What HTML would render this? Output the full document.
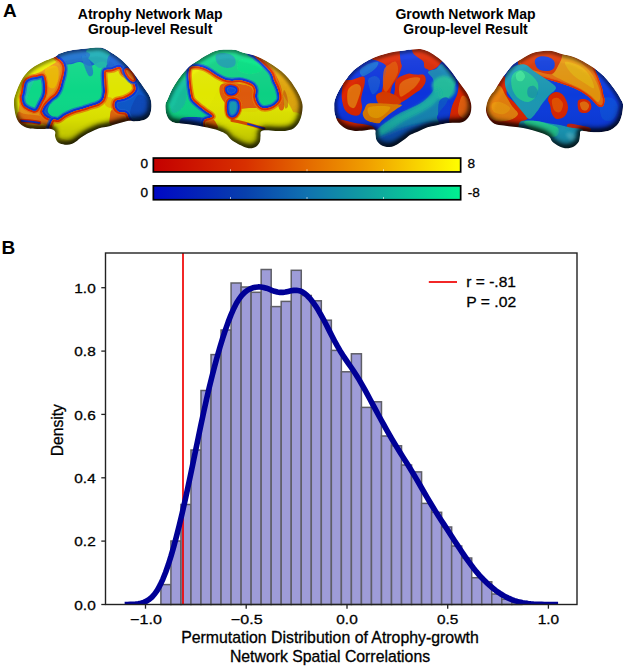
<!DOCTYPE html>
<html><head><meta charset="utf-8"><style>
html,body{margin:0;padding:0;background:#fff;width:627px;height:669px;overflow:hidden}
svg{display:block}
text{font-family:"Liberation Sans",sans-serif;fill:#000}
.tl{font-size:13.4px;stroke:#000;stroke-width:0.3px}
.lg{font-size:15.2px;stroke:#000;stroke-width:0.3px}
.xl{font-size:15.7px;stroke:#000;stroke-width:0.3px}
.cbl{font-size:13.6px;stroke:#000;stroke-width:0.3px}
.tt{font-size:14px;font-weight:bold}
.pl{font-size:19px;font-weight:bold}
</style></head><body>
<svg width="627" height="669" viewBox="0 0 627 669">
<defs>
<linearGradient id="shg" x1="0" y1="0" x2="0" y2="1"><stop offset="0" stop-color="#fff" stop-opacity="0.10"/><stop offset="0.45" stop-color="#fff" stop-opacity="0"/><stop offset="0.75" stop-color="#000" stop-opacity="0.04"/><stop offset="1" stop-color="#000" stop-opacity="0.2"/></linearGradient>
<filter id="pil" x="-5%" y="-5%" width="110%" height="110%" color-interpolation-filters="sRGB">
<feGaussianBlur in="SourceAlpha" stdDeviation="3.5" result="b"/>
<feDiffuseLighting in="b" surfaceScale="5" diffuseConstant="1.15" lighting-color="#fff" result="l"><feDistantLight azimuth="250" elevation="50"/></feDiffuseLighting>
<feComponentTransfer in="l" result="l2"><feFuncR type="linear" slope="0.75" intercept="0.3"/><feFuncG type="linear" slope="0.75" intercept="0.3"/><feFuncB type="linear" slope="0.75" intercept="0.3"/></feComponentTransfer>
<feBlend in="SourceGraphic" in2="l2" mode="multiply" result="m"/>
<feComposite in="m" in2="SourceAlpha" operator="in"/>
</filter>
<filter id="bl1" x="-5%" y="-5%" width="110%" height="110%"><feGaussianBlur stdDeviation="0.7"/></filter>
<filter id="bl2" x="-10%" y="-10%" width="120%" height="120%"><feGaussianBlur stdDeviation="1.5"/></filter>
<filter id="bl3" x="-10%" y="-10%" width="120%" height="120%"><feGaussianBlur stdDeviation="3"/></filter>
<linearGradient id="gr" x1="0" x2="1" y1="0" y2="0">
<stop offset="0" stop-color="#c40000"/><stop offset="0.3" stop-color="#d83000"/><stop offset="0.5" stop-color="#e46a00"/><stop offset="0.7" stop-color="#f0a000"/><stop offset="0.85" stop-color="#f8d000"/><stop offset="1" stop-color="#ffff00"/></linearGradient>
<linearGradient id="gb" x1="0" x2="1" y1="0" y2="0">
<stop offset="0" stop-color="#0008c4"/><stop offset="0.3" stop-color="#0840ac"/><stop offset="0.5" stop-color="#1072b0"/><stop offset="0.7" stop-color="#10a0a0"/><stop offset="0.85" stop-color="#08c898"/><stop offset="1" stop-color="#00f090"/></linearGradient>
</defs>
<g filter="url(#pil)"><clipPath id="b1s"><path d="M14.5,110.0 C14.0,106.8 13.8,102.7 14.0,100.0 C14.2,97.3 14.7,96.5 15.5,94.0 C16.3,91.5 17.6,88.0 19.0,85.0 C20.4,82.0 21.8,78.8 24.0,76.0 C26.2,73.2 28.8,70.4 32.0,68.0 C35.2,65.6 39.0,63.6 43.0,61.7 C47.0,59.8 52.9,57.8 55.7,56.4 C58.5,55.0 57.4,54.5 59.6,53.6 C61.8,52.7 65.9,51.4 69.1,50.7 C72.3,50.0 75.5,49.7 78.7,49.3 C81.9,48.9 85.1,48.6 88.3,48.3 C91.5,48.0 95.2,47.6 97.8,47.6 C100.3,47.6 101.6,47.6 103.6,48.3 C105.6,49.0 107.5,50.2 110.0,51.7 C112.5,53.2 115.6,55.1 118.3,57.2 C121.0,59.3 123.5,61.5 126.0,64.2 C128.6,66.9 131.3,70.2 133.6,73.2 C135.9,76.2 137.9,79.0 140.0,82.0 C142.1,85.0 144.6,88.4 146.3,91.0 C148.0,93.6 149.3,95.1 150.2,97.7 C151.1,100.3 151.6,103.6 151.5,106.6 C151.4,109.6 150.8,113.3 149.5,115.5 C148.2,117.7 146.4,119.0 144.0,120.0 C141.6,121.0 137.6,121.2 135.0,121.3 C132.4,121.4 131.3,120.4 128.5,120.8 C125.7,121.2 121.4,122.5 118.0,123.5 C114.6,124.5 111.0,125.8 108.0,126.5 C105.0,127.2 102.4,127.3 100.0,128.0 C97.6,128.7 95.9,129.6 93.8,130.5 C91.7,131.4 89.5,132.3 87.4,133.5 C85.3,134.7 82.9,136.2 81.0,137.5 C79.1,138.8 77.6,140.5 76.0,141.6 C74.4,142.7 73.1,143.6 71.5,144.1 C69.9,144.6 68.3,144.9 66.4,144.8 C64.5,144.7 61.6,144.2 60.0,143.5 C58.4,142.8 57.3,141.8 56.5,140.5 C55.7,139.2 55.2,137.5 55.0,136.0 C54.8,134.5 55.8,132.7 55.0,131.5 C54.2,130.3 52.5,129.2 50.0,128.8 C47.5,128.4 43.5,129.1 40.0,129.0 C36.5,128.9 32.1,129.0 29.0,128.3 C25.9,127.7 23.5,126.6 21.5,125.1 C19.5,123.6 18.2,121.8 17.0,119.3 C15.8,116.8 15.0,113.2 14.5,110.0Z"/></clipPath>
<g clip-path="url(#b1s)"><g filter="url(#bl1)">
<path d="M14.5,110.0 C14.0,106.8 13.8,102.7 14.0,100.0 C14.2,97.3 14.7,96.5 15.5,94.0 C16.3,91.5 17.6,88.0 19.0,85.0 C20.4,82.0 21.8,78.8 24.0,76.0 C26.2,73.2 28.8,70.4 32.0,68.0 C35.2,65.6 39.0,63.6 43.0,61.7 C47.0,59.8 52.9,57.8 55.7,56.4 C58.5,55.0 57.4,54.5 59.6,53.6 C61.8,52.7 65.9,51.4 69.1,50.7 C72.3,50.0 75.5,49.7 78.7,49.3 C81.9,48.9 85.1,48.6 88.3,48.3 C91.5,48.0 95.2,47.6 97.8,47.6 C100.3,47.6 101.6,47.6 103.6,48.3 C105.6,49.0 107.5,50.2 110.0,51.7 C112.5,53.2 115.6,55.1 118.3,57.2 C121.0,59.3 123.5,61.5 126.0,64.2 C128.6,66.9 131.3,70.2 133.6,73.2 C135.9,76.2 137.9,79.0 140.0,82.0 C142.1,85.0 144.6,88.4 146.3,91.0 C148.0,93.6 149.3,95.1 150.2,97.7 C151.1,100.3 151.6,103.6 151.5,106.6 C151.4,109.6 150.8,113.3 149.5,115.5 C148.2,117.7 146.4,119.0 144.0,120.0 C141.6,121.0 137.6,121.2 135.0,121.3 C132.4,121.4 131.3,120.4 128.5,120.8 C125.7,121.2 121.4,122.5 118.0,123.5 C114.6,124.5 111.0,125.8 108.0,126.5 C105.0,127.2 102.4,127.3 100.0,128.0 C97.6,128.7 95.9,129.6 93.8,130.5 C91.7,131.4 89.5,132.3 87.4,133.5 C85.3,134.7 82.9,136.2 81.0,137.5 C79.1,138.8 77.6,140.5 76.0,141.6 C74.4,142.7 73.1,143.6 71.5,144.1 C69.9,144.6 68.3,144.9 66.4,144.8 C64.5,144.7 61.6,144.2 60.0,143.5 C58.4,142.8 57.3,141.8 56.5,140.5 C55.7,139.2 55.2,137.5 55.0,136.0 C54.8,134.5 55.8,132.7 55.0,131.5 C54.2,130.3 52.5,129.2 50.0,128.8 C47.5,128.4 43.5,129.1 40.0,129.0 C36.5,128.9 32.1,129.0 29.0,128.3 C25.9,127.7 23.5,126.6 21.5,125.1 C19.5,123.6 18.2,121.8 17.0,119.3 C15.8,116.8 15.0,113.2 14.5,110.0Z" fill="#0a5ad0"/>
<path d="M63.0,66.0 C64.3,64.0 69.2,64.7 72.0,64.0 C74.8,63.3 77.0,61.7 80.0,62.0 C83.0,62.3 86.7,66.0 90.0,66.0 C93.3,66.0 97.3,62.3 100.0,62.0 C102.7,61.7 105.2,60.2 106.0,64.0 C106.8,67.8 106.0,79.0 105.0,85.0 C104.0,91.0 103.3,96.5 100.0,100.0 C96.7,103.5 90.0,104.0 85.0,106.0 C80.0,108.0 74.5,110.0 70.0,112.0 C65.5,114.0 61.7,118.0 58.0,118.0 C54.3,118.0 49.0,115.0 48.0,112.0 C47.0,109.0 50.0,104.0 52.0,100.0 C54.0,96.0 58.0,92.0 60.0,88.0 C62.0,84.0 63.5,79.7 64.0,76.0 C64.5,72.3 61.7,68.0 63.0,66.0Z" fill="#10e08c" fill-opacity="1.0"/>
<path d="M88.0,49.0 C90.3,47.7 96.3,47.2 100.0,48.0 C103.7,48.8 108.7,51.3 110.0,54.0 C111.3,56.7 109.7,61.7 108.0,64.0 C106.3,66.3 102.7,68.3 100.0,68.0 C97.3,67.7 94.3,64.0 92.0,62.0 C89.7,60.0 86.7,58.2 86.0,56.0 C85.3,53.8 85.7,50.3 88.0,49.0Z" fill="#14b4b0" fill-opacity="0.9"/>
<path d="M58.0,55.0 C59.7,53.3 66.0,52.7 70.0,52.0 C74.0,51.3 78.7,50.7 82.0,51.0 C85.3,51.3 89.3,52.5 90.0,54.0 C90.7,55.5 88.3,58.7 86.0,60.0 C83.7,61.3 79.3,61.3 76.0,62.0 C72.7,62.7 68.7,64.0 66.0,64.0 C63.3,64.0 61.3,63.5 60.0,62.0 C58.7,60.5 56.3,56.7 58.0,55.0Z" fill="#1470cc" fill-opacity="0.85"/>
<path d="M82.0,56.0 C82.5,54.3 86.3,56.3 88.0,58.0 C89.7,59.7 91.2,63.3 92.0,66.0 C92.8,68.7 93.5,72.3 93.0,74.0 C92.5,75.7 90.3,77.0 89.0,76.0 C87.7,75.0 86.2,71.3 85.0,68.0 C83.8,64.7 81.5,57.7 82.0,56.0Z" fill="#1878cc" fill-opacity="0.8"/>
<path d="M110.0,55.0 C112.8,54.3 121.7,59.5 125.0,62.0 C128.3,64.5 130.8,69.3 130.0,70.0 C129.2,70.7 123.7,66.7 120.0,66.0 C116.3,65.3 109.7,67.8 108.0,66.0 C106.3,64.2 107.2,55.7 110.0,55.0Z" fill="#1460d4" fill-opacity="0.8"/>
<path d="M138.0,95.0 C140.8,92.8 145.3,97.2 147.0,100.0 C148.7,102.8 149.2,109.0 148.0,112.0 C146.8,115.0 143.0,117.8 140.0,118.0 C137.0,118.2 130.3,116.8 130.0,113.0 C129.7,109.2 135.2,97.2 138.0,95.0Z" fill="#0846b8" fill-opacity="0.7"/>
<clipPath id="brain1c1"><path d="M50.0,45.0 C55.1,44.7 54.0,53.9 55.7,56.4 C57.5,58.9 59.2,59.0 60.5,60.3 C61.8,61.6 62.8,62.7 63.4,64.1 C64.0,65.5 64.4,67.0 64.4,68.9 C64.4,70.8 63.9,73.4 63.4,75.6 C62.9,77.8 62.1,80.1 61.5,82.3 C60.9,84.5 60.5,86.9 59.6,89.0 C58.7,91.1 57.4,93.3 56.0,95.0 C54.6,96.7 52.8,97.3 51.0,99.0 C49.2,100.7 46.5,102.9 45.0,105.0 C43.5,107.1 41.9,109.5 42.0,111.5 C42.1,113.5 43.8,115.4 45.5,116.8 C47.2,118.2 50.1,119.0 52.0,120.0 C53.9,121.0 56.3,121.2 57.0,122.5 C57.7,123.8 57.2,126.1 56.0,128.0 C54.8,129.9 56.0,133.0 50.0,134.0 C44.0,135.0 27.0,136.7 20.0,134.0 C13.0,131.3 10.3,124.5 8.0,118.0 C5.7,111.5 5.3,102.2 6.0,95.0 C6.7,87.8 8.8,81.2 12.0,75.0 C15.2,68.8 18.7,63.0 25.0,58.0 C31.3,53.0 44.9,45.3 50.0,45.0Z"/></clipPath><path d="M50.0,45.0 C55.1,44.7 54.0,53.9 55.7,56.4 C57.5,58.9 59.2,59.0 60.5,60.3 C61.8,61.6 62.8,62.7 63.4,64.1 C64.0,65.5 64.4,67.0 64.4,68.9 C64.4,70.8 63.9,73.4 63.4,75.6 C62.9,77.8 62.1,80.1 61.5,82.3 C60.9,84.5 60.5,86.9 59.6,89.0 C58.7,91.1 57.4,93.3 56.0,95.0 C54.6,96.7 52.8,97.3 51.0,99.0 C49.2,100.7 46.5,102.9 45.0,105.0 C43.5,107.1 41.9,109.5 42.0,111.5 C42.1,113.5 43.8,115.4 45.5,116.8 C47.2,118.2 50.1,119.0 52.0,120.0 C53.9,121.0 56.3,121.2 57.0,122.5 C57.7,123.8 57.2,126.1 56.0,128.0 C54.8,129.9 56.0,133.0 50.0,134.0 C44.0,135.0 27.0,136.7 20.0,134.0 C13.0,131.3 10.3,124.5 8.0,118.0 C5.7,111.5 5.3,102.2 6.0,95.0 C6.7,87.8 8.8,81.2 12.0,75.0 C15.2,68.8 18.7,63.0 25.0,58.0 C31.3,53.0 44.9,45.3 50.0,45.0Z" fill="none" stroke="#1a64d8" stroke-opacity="0.7" stroke-width="7.04"/><path d="M50.0,45.0 C55.1,44.7 54.0,53.9 55.7,56.4 C57.5,58.9 59.2,59.0 60.5,60.3 C61.8,61.6 62.8,62.7 63.4,64.1 C64.0,65.5 64.4,67.0 64.4,68.9 C64.4,70.8 63.9,73.4 63.4,75.6 C62.9,77.8 62.1,80.1 61.5,82.3 C60.9,84.5 60.5,86.9 59.6,89.0 C58.7,91.1 57.4,93.3 56.0,95.0 C54.6,96.7 52.8,97.3 51.0,99.0 C49.2,100.7 46.5,102.9 45.0,105.0 C43.5,107.1 41.9,109.5 42.0,111.5 C42.1,113.5 43.8,115.4 45.5,116.8 C47.2,118.2 50.1,119.0 52.0,120.0 C53.9,121.0 56.3,121.2 57.0,122.5 C57.7,123.8 57.2,126.1 56.0,128.0 C54.8,129.9 56.0,133.0 50.0,134.0 C44.0,135.0 27.0,136.7 20.0,134.0 C13.0,131.3 10.3,124.5 8.0,118.0 C5.7,111.5 5.3,102.2 6.0,95.0 C6.7,87.8 8.8,81.2 12.0,75.0 C15.2,68.8 18.7,63.0 25.0,58.0 C31.3,53.0 44.9,45.3 50.0,45.0Z" fill="none" stroke="#0c30e0" stroke-width="4.32"/><path d="M50.0,45.0 C55.1,44.7 54.0,53.9 55.7,56.4 C57.5,58.9 59.2,59.0 60.5,60.3 C61.8,61.6 62.8,62.7 63.4,64.1 C64.0,65.5 64.4,67.0 64.4,68.9 C64.4,70.8 63.9,73.4 63.4,75.6 C62.9,77.8 62.1,80.1 61.5,82.3 C60.9,84.5 60.5,86.9 59.6,89.0 C58.7,91.1 57.4,93.3 56.0,95.0 C54.6,96.7 52.8,97.3 51.0,99.0 C49.2,100.7 46.5,102.9 45.0,105.0 C43.5,107.1 41.9,109.5 42.0,111.5 C42.1,113.5 43.8,115.4 45.5,116.8 C47.2,118.2 50.1,119.0 52.0,120.0 C53.9,121.0 56.3,121.2 57.0,122.5 C57.7,123.8 57.2,126.1 56.0,128.0 C54.8,129.9 56.0,133.0 50.0,134.0 C44.0,135.0 27.0,136.7 20.0,134.0 C13.0,131.3 10.3,124.5 8.0,118.0 C5.7,111.5 5.3,102.2 6.0,95.0 C6.7,87.8 8.8,81.2 12.0,75.0 C15.2,68.8 18.7,63.0 25.0,58.0 C31.3,53.0 44.9,45.3 50.0,45.0Z" fill="#f09a18"/><g clip-path="url(#brain1c1)"><path d="M10.0,112.0 C10.0,108.0 10.7,101.0 12.0,96.0 C13.3,91.0 15.3,86.3 18.0,82.0 C20.7,77.7 24.3,73.3 28.0,70.0 C31.7,66.7 35.8,64.3 40.0,62.0 C44.2,59.7 50.0,56.3 53.0,56.0 C56.0,55.7 58.5,58.3 58.0,60.0 C57.5,61.7 53.0,64.0 50.0,66.0 C47.0,68.0 43.3,70.3 40.0,72.0 C36.7,73.7 32.7,74.0 30.0,76.0 C27.3,78.0 25.5,80.8 24.0,84.0 C22.5,87.2 21.8,91.0 21.0,95.0 C20.2,99.0 19.5,104.2 19.0,108.0 C18.5,111.8 19.2,116.0 18.0,118.0 C16.8,120.0 13.3,121.0 12.0,120.0 C10.7,119.0 10.0,116.0 10.0,112.0Z" fill="#e8ee00" fill-opacity="1.0"/><path d="M45.0,70.0 C46.0,68.0 49.8,66.3 52.0,66.0 C54.2,65.7 57.0,65.7 58.0,68.0 C59.0,70.3 58.7,76.7 58.0,80.0 C57.3,83.3 55.7,87.0 54.0,88.0 C52.3,89.0 49.3,87.7 48.0,86.0 C46.7,84.3 46.5,80.7 46.0,78.0 C45.5,75.3 44.0,72.0 45.0,70.0Z" fill="#f4c000" fill-opacity="0.9"/><path d="M18.0,112.0 C19.2,110.7 21.3,113.3 25.0,114.0 C28.7,114.7 35.8,114.7 40.0,116.0 C44.2,117.3 49.2,120.2 50.0,122.0 C50.8,123.8 48.3,126.2 45.0,127.0 C41.7,127.8 34.5,127.8 30.0,127.0 C25.5,126.2 20.0,124.5 18.0,122.0 C16.0,119.5 16.8,113.3 18.0,112.0Z" fill="#ea6a08" fill-opacity="0.8"/><path d="M26.0,124.0 C27.0,123.2 32.7,122.8 36.0,123.0 C39.3,123.2 45.3,124.2 46.0,125.0 C46.7,125.8 42.7,127.5 40.0,128.0 C37.3,128.5 32.3,128.7 30.0,128.0 C27.7,127.3 25.0,124.8 26.0,124.0Z" fill="#f2c000" fill-opacity="0.8"/><path d="M50.0,45.0 C55.1,44.7 54.0,53.9 55.7,56.4 C57.5,58.9 59.2,59.0 60.5,60.3 C61.8,61.6 62.8,62.7 63.4,64.1 C64.0,65.5 64.4,67.0 64.4,68.9 C64.4,70.8 63.9,73.4 63.4,75.6 C62.9,77.8 62.1,80.1 61.5,82.3 C60.9,84.5 60.5,86.9 59.6,89.0 C58.7,91.1 57.4,93.3 56.0,95.0 C54.6,96.7 52.8,97.3 51.0,99.0 C49.2,100.7 46.5,102.9 45.0,105.0 C43.5,107.1 41.9,109.5 42.0,111.5 C42.1,113.5 43.8,115.4 45.5,116.8 C47.2,118.2 50.1,119.0 52.0,120.0 C53.9,121.0 56.3,121.2 57.0,122.5 C57.7,123.8 57.2,126.1 56.0,128.0 C54.8,129.9 56.0,133.0 50.0,134.0 C44.0,135.0 27.0,136.7 20.0,134.0 C13.0,131.3 10.3,124.5 8.0,118.0 C5.7,111.5 5.3,102.2 6.0,95.0 C6.7,87.8 8.8,81.2 12.0,75.0 C15.2,68.8 18.7,63.0 25.0,58.0 C31.3,53.0 44.9,45.3 50.0,45.0Z" fill="none" stroke="#ee7408" stroke-opacity="0.75" stroke-width="7.04"/><path d="M50.0,45.0 C55.1,44.7 54.0,53.9 55.7,56.4 C57.5,58.9 59.2,59.0 60.5,60.3 C61.8,61.6 62.8,62.7 63.4,64.1 C64.0,65.5 64.4,67.0 64.4,68.9 C64.4,70.8 63.9,73.4 63.4,75.6 C62.9,77.8 62.1,80.1 61.5,82.3 C60.9,84.5 60.5,86.9 59.6,89.0 C58.7,91.1 57.4,93.3 56.0,95.0 C54.6,96.7 52.8,97.3 51.0,99.0 C49.2,100.7 46.5,102.9 45.0,105.0 C43.5,107.1 41.9,109.5 42.0,111.5 C42.1,113.5 43.8,115.4 45.5,116.8 C47.2,118.2 50.1,119.0 52.0,120.0 C53.9,121.0 56.3,121.2 57.0,122.5 C57.7,123.8 57.2,126.1 56.0,128.0 C54.8,129.9 56.0,133.0 50.0,134.0 C44.0,135.0 27.0,136.7 20.0,134.0 C13.0,131.3 10.3,124.5 8.0,118.0 C5.7,111.5 5.3,102.2 6.0,95.0 C6.7,87.8 8.8,81.2 12.0,75.0 C15.2,68.8 18.7,63.0 25.0,58.0 C31.3,53.0 44.9,45.3 50.0,45.0Z" fill="none" stroke="#e42a00" stroke-width="3.84"/></g>
<clipPath id="brain1c2"><path d="M22.8,93.6 C23.4,91.1 24.0,84.6 25.3,82.1 C26.6,79.5 28.5,79.1 30.4,78.3 C32.3,77.5 34.9,77.4 36.8,77.0 C38.7,76.6 40.7,75.5 41.9,75.7 C43.1,75.9 43.3,76.2 43.8,78.3 C44.3,80.4 45.1,85.5 45.1,88.5 C45.1,91.5 44.8,93.6 44.0,96.0 C43.2,98.4 41.8,100.5 40.6,102.8 C39.4,105.1 38.1,108.5 36.8,109.8 C35.5,111.1 34.9,110.9 33.0,110.4 C31.1,109.9 27.0,107.9 25.3,106.6 C23.6,105.3 23.4,104.4 22.8,102.8 C22.2,101.2 21.8,98.5 21.8,97.0 C21.8,95.5 22.2,96.1 22.8,93.6Z"/></clipPath><path d="M22.8,93.6 C23.4,91.1 24.0,84.6 25.3,82.1 C26.6,79.5 28.5,79.1 30.4,78.3 C32.3,77.5 34.9,77.4 36.8,77.0 C38.7,76.6 40.7,75.5 41.9,75.7 C43.1,75.9 43.3,76.2 43.8,78.3 C44.3,80.4 45.1,85.5 45.1,88.5 C45.1,91.5 44.8,93.6 44.0,96.0 C43.2,98.4 41.8,100.5 40.6,102.8 C39.4,105.1 38.1,108.5 36.8,109.8 C35.5,111.1 34.9,110.9 33.0,110.4 C31.1,109.9 27.0,107.9 25.3,106.6 C23.6,105.3 23.4,104.4 22.8,102.8 C22.2,101.2 21.8,98.5 21.8,97.0 C21.8,95.5 22.2,96.1 22.8,93.6Z" fill="none" stroke="#ee7408" stroke-opacity="0.7" stroke-width="6.60"/><path d="M22.8,93.6 C23.4,91.1 24.0,84.6 25.3,82.1 C26.6,79.5 28.5,79.1 30.4,78.3 C32.3,77.5 34.9,77.4 36.8,77.0 C38.7,76.6 40.7,75.5 41.9,75.7 C43.1,75.9 43.3,76.2 43.8,78.3 C44.3,80.4 45.1,85.5 45.1,88.5 C45.1,91.5 44.8,93.6 44.0,96.0 C43.2,98.4 41.8,100.5 40.6,102.8 C39.4,105.1 38.1,108.5 36.8,109.8 C35.5,111.1 34.9,110.9 33.0,110.4 C31.1,109.9 27.0,107.9 25.3,106.6 C23.6,105.3 23.4,104.4 22.8,102.8 C22.2,101.2 21.8,98.5 21.8,97.0 C21.8,95.5 22.2,96.1 22.8,93.6Z" fill="none" stroke="#e42a00" stroke-width="4.05"/><path d="M22.8,93.6 C23.4,91.1 24.0,84.6 25.3,82.1 C26.6,79.5 28.5,79.1 30.4,78.3 C32.3,77.5 34.9,77.4 36.8,77.0 C38.7,76.6 40.7,75.5 41.9,75.7 C43.1,75.9 43.3,76.2 43.8,78.3 C44.3,80.4 45.1,85.5 45.1,88.5 C45.1,91.5 44.8,93.6 44.0,96.0 C43.2,98.4 41.8,100.5 40.6,102.8 C39.4,105.1 38.1,108.5 36.8,109.8 C35.5,111.1 34.9,110.9 33.0,110.4 C31.1,109.9 27.0,107.9 25.3,106.6 C23.6,105.3 23.4,104.4 22.8,102.8 C22.2,101.2 21.8,98.5 21.8,97.0 C21.8,95.5 22.2,96.1 22.8,93.6Z" fill="#10e08c"/><g clip-path="url(#brain1c2)"><path d="M24.0,88.0 C24.3,85.0 26.3,83.3 28.0,82.0 C29.7,80.7 33.7,78.7 34.0,80.0 C34.3,81.3 31.3,86.7 30.0,90.0 C28.7,93.3 27.0,100.3 26.0,100.0 C25.0,99.7 23.7,91.0 24.0,88.0Z" fill="#26c8b0" fill-opacity="0.7"/><path d="M22.8,93.6 C23.4,91.1 24.0,84.6 25.3,82.1 C26.6,79.5 28.5,79.1 30.4,78.3 C32.3,77.5 34.9,77.4 36.8,77.0 C38.7,76.6 40.7,75.5 41.9,75.7 C43.1,75.9 43.3,76.2 43.8,78.3 C44.3,80.4 45.1,85.5 45.1,88.5 C45.1,91.5 44.8,93.6 44.0,96.0 C43.2,98.4 41.8,100.5 40.6,102.8 C39.4,105.1 38.1,108.5 36.8,109.8 C35.5,111.1 34.9,110.9 33.0,110.4 C31.1,109.9 27.0,107.9 25.3,106.6 C23.6,105.3 23.4,104.4 22.8,102.8 C22.2,101.2 21.8,98.5 21.8,97.0 C21.8,95.5 22.2,96.1 22.8,93.6Z" fill="none" stroke="#1a64d8" stroke-opacity="0.75" stroke-width="6.60"/><path d="M22.8,93.6 C23.4,91.1 24.0,84.6 25.3,82.1 C26.6,79.5 28.5,79.1 30.4,78.3 C32.3,77.5 34.9,77.4 36.8,77.0 C38.7,76.6 40.7,75.5 41.9,75.7 C43.1,75.9 43.3,76.2 43.8,78.3 C44.3,80.4 45.1,85.5 45.1,88.5 C45.1,91.5 44.8,93.6 44.0,96.0 C43.2,98.4 41.8,100.5 40.6,102.8 C39.4,105.1 38.1,108.5 36.8,109.8 C35.5,111.1 34.9,110.9 33.0,110.4 C31.1,109.9 27.0,107.9 25.3,106.6 C23.6,105.3 23.4,104.4 22.8,102.8 C22.2,101.2 21.8,98.5 21.8,97.0 C21.8,95.5 22.2,96.1 22.8,93.6Z" fill="none" stroke="#0c30e0" stroke-width="3.60"/></g>
<path d="M21.5,120.8 C28,121 34,122 39.3,122.8" fill="none" stroke="#e42a00" stroke-width="4" stroke-linecap="round"/>
<path d="M21.5,120.8 C28,121 34,122 39.3,122.8" fill="none" stroke="#0c30e0" stroke-width="1.8" stroke-linecap="round"/>
<clipPath id="brain1c3"><path d="M52.0,121.0 C53.8,118.0 56.3,120.9 58.5,120.0 C60.7,119.1 62.5,116.9 65.0,115.5 C67.5,114.1 70.8,112.6 73.8,111.5 C76.8,110.4 80.0,109.8 82.7,109.0 C85.4,108.2 87.5,107.3 90.0,106.5 C92.5,105.7 95.8,105.1 98.0,104.0 C100.2,102.9 101.8,102.0 103.0,100.0 C104.2,98.0 104.8,95.0 105.0,92.0 C105.2,89.0 104.6,85.5 104.5,82.0 C104.4,78.5 103.3,73.1 104.5,71.0 C105.7,68.9 109.6,70.2 111.9,69.5 C114.2,68.8 116.8,67.2 118.3,67.0 C119.8,66.8 120.2,67.0 121.0,68.0 C121.8,69.0 121.7,71.5 123.4,73.2 C125.1,74.9 129.0,75.8 131.0,78.3 C133.0,80.8 135.3,85.4 135.5,88.0 C135.7,90.6 133.9,92.2 132.0,94.0 C130.1,95.8 126.7,97.4 124.0,98.5 C121.3,99.6 117.6,99.2 116.0,100.5 C114.4,101.8 114.0,104.7 114.4,106.6 C114.8,108.5 116.4,110.6 118.3,111.7 C120.2,112.8 124.2,112.0 125.9,113.0 C127.6,114.0 127.7,115.8 128.5,118.0 C129.3,120.2 134.1,122.3 131.0,126.0 C127.9,129.7 118.5,135.7 110.0,140.0 C101.5,144.3 89.2,150.3 80.0,152.0 C70.8,153.7 60.3,152.3 55.0,150.0 C49.7,147.7 48.5,142.8 48.0,138.0 C47.5,133.2 50.2,124.0 52.0,121.0Z"/></clipPath><path d="M52.0,121.0 C53.8,118.0 56.3,120.9 58.5,120.0 C60.7,119.1 62.5,116.9 65.0,115.5 C67.5,114.1 70.8,112.6 73.8,111.5 C76.8,110.4 80.0,109.8 82.7,109.0 C85.4,108.2 87.5,107.3 90.0,106.5 C92.5,105.7 95.8,105.1 98.0,104.0 C100.2,102.9 101.8,102.0 103.0,100.0 C104.2,98.0 104.8,95.0 105.0,92.0 C105.2,89.0 104.6,85.5 104.5,82.0 C104.4,78.5 103.3,73.1 104.5,71.0 C105.7,68.9 109.6,70.2 111.9,69.5 C114.2,68.8 116.8,67.2 118.3,67.0 C119.8,66.8 120.2,67.0 121.0,68.0 C121.8,69.0 121.7,71.5 123.4,73.2 C125.1,74.9 129.0,75.8 131.0,78.3 C133.0,80.8 135.3,85.4 135.5,88.0 C135.7,90.6 133.9,92.2 132.0,94.0 C130.1,95.8 126.7,97.4 124.0,98.5 C121.3,99.6 117.6,99.2 116.0,100.5 C114.4,101.8 114.0,104.7 114.4,106.6 C114.8,108.5 116.4,110.6 118.3,111.7 C120.2,112.8 124.2,112.0 125.9,113.0 C127.6,114.0 127.7,115.8 128.5,118.0 C129.3,120.2 134.1,122.3 131.0,126.0 C127.9,129.7 118.5,135.7 110.0,140.0 C101.5,144.3 89.2,150.3 80.0,152.0 C70.8,153.7 60.3,152.3 55.0,150.0 C49.7,147.7 48.5,142.8 48.0,138.0 C47.5,133.2 50.2,124.0 52.0,121.0Z" fill="none" stroke="#1a64d8" stroke-opacity="0.7" stroke-width="7.04"/><path d="M52.0,121.0 C53.8,118.0 56.3,120.9 58.5,120.0 C60.7,119.1 62.5,116.9 65.0,115.5 C67.5,114.1 70.8,112.6 73.8,111.5 C76.8,110.4 80.0,109.8 82.7,109.0 C85.4,108.2 87.5,107.3 90.0,106.5 C92.5,105.7 95.8,105.1 98.0,104.0 C100.2,102.9 101.8,102.0 103.0,100.0 C104.2,98.0 104.8,95.0 105.0,92.0 C105.2,89.0 104.6,85.5 104.5,82.0 C104.4,78.5 103.3,73.1 104.5,71.0 C105.7,68.9 109.6,70.2 111.9,69.5 C114.2,68.8 116.8,67.2 118.3,67.0 C119.8,66.8 120.2,67.0 121.0,68.0 C121.8,69.0 121.7,71.5 123.4,73.2 C125.1,74.9 129.0,75.8 131.0,78.3 C133.0,80.8 135.3,85.4 135.5,88.0 C135.7,90.6 133.9,92.2 132.0,94.0 C130.1,95.8 126.7,97.4 124.0,98.5 C121.3,99.6 117.6,99.2 116.0,100.5 C114.4,101.8 114.0,104.7 114.4,106.6 C114.8,108.5 116.4,110.6 118.3,111.7 C120.2,112.8 124.2,112.0 125.9,113.0 C127.6,114.0 127.7,115.8 128.5,118.0 C129.3,120.2 134.1,122.3 131.0,126.0 C127.9,129.7 118.5,135.7 110.0,140.0 C101.5,144.3 89.2,150.3 80.0,152.0 C70.8,153.7 60.3,152.3 55.0,150.0 C49.7,147.7 48.5,142.8 48.0,138.0 C47.5,133.2 50.2,124.0 52.0,121.0Z" fill="none" stroke="#0c30e0" stroke-width="4.32"/><path d="M52.0,121.0 C53.8,118.0 56.3,120.9 58.5,120.0 C60.7,119.1 62.5,116.9 65.0,115.5 C67.5,114.1 70.8,112.6 73.8,111.5 C76.8,110.4 80.0,109.8 82.7,109.0 C85.4,108.2 87.5,107.3 90.0,106.5 C92.5,105.7 95.8,105.1 98.0,104.0 C100.2,102.9 101.8,102.0 103.0,100.0 C104.2,98.0 104.8,95.0 105.0,92.0 C105.2,89.0 104.6,85.5 104.5,82.0 C104.4,78.5 103.3,73.1 104.5,71.0 C105.7,68.9 109.6,70.2 111.9,69.5 C114.2,68.8 116.8,67.2 118.3,67.0 C119.8,66.8 120.2,67.0 121.0,68.0 C121.8,69.0 121.7,71.5 123.4,73.2 C125.1,74.9 129.0,75.8 131.0,78.3 C133.0,80.8 135.3,85.4 135.5,88.0 C135.7,90.6 133.9,92.2 132.0,94.0 C130.1,95.8 126.7,97.4 124.0,98.5 C121.3,99.6 117.6,99.2 116.0,100.5 C114.4,101.8 114.0,104.7 114.4,106.6 C114.8,108.5 116.4,110.6 118.3,111.7 C120.2,112.8 124.2,112.0 125.9,113.0 C127.6,114.0 127.7,115.8 128.5,118.0 C129.3,120.2 134.1,122.3 131.0,126.0 C127.9,129.7 118.5,135.7 110.0,140.0 C101.5,144.3 89.2,150.3 80.0,152.0 C70.8,153.7 60.3,152.3 55.0,150.0 C49.7,147.7 48.5,142.8 48.0,138.0 C47.5,133.2 50.2,124.0 52.0,121.0Z" fill="#e8ee00"/><g clip-path="url(#brain1c3)"><path d="M112.0,110.0 C113.7,109.5 117.5,112.2 120.0,113.0 C122.5,113.8 125.7,113.7 127.0,115.0 C128.3,116.3 129.5,119.3 128.0,121.0 C126.5,122.7 121.0,124.5 118.0,125.0 C115.0,125.5 111.3,125.5 110.0,124.0 C108.7,122.5 109.7,118.3 110.0,116.0 C110.3,113.7 110.3,110.5 112.0,110.0Z" fill="#e85a10" fill-opacity="0.9"/><path d="M104.0,100.0 C104.3,98.5 106.5,97.2 108.0,97.0 C109.5,96.8 112.0,97.8 113.0,99.0 C114.0,100.2 114.2,102.5 114.0,104.0 C113.8,105.5 113.3,107.7 112.0,108.0 C110.7,108.3 107.3,107.3 106.0,106.0 C104.7,104.7 103.7,101.5 104.0,100.0Z" fill="#f0b400" fill-opacity="0.8"/><path d="M58.0,138.0 C59.3,137.0 65.5,140.7 70.0,140.0 C74.5,139.3 80.0,136.2 85.0,134.0 C90.0,131.8 95.8,128.3 100.0,127.0 C104.2,125.7 110.0,125.2 110.0,126.0 C110.0,126.8 105.0,129.3 100.0,132.0 C95.0,134.7 86.3,139.7 80.0,142.0 C73.7,144.3 65.7,146.7 62.0,146.0 C58.3,145.3 56.7,139.0 58.0,138.0Z" fill="#d8c800" fill-opacity="0.7"/><path d="M52.0,121.0 C53.8,118.0 56.3,120.9 58.5,120.0 C60.7,119.1 62.5,116.9 65.0,115.5 C67.5,114.1 70.8,112.6 73.8,111.5 C76.8,110.4 80.0,109.8 82.7,109.0 C85.4,108.2 87.5,107.3 90.0,106.5 C92.5,105.7 95.8,105.1 98.0,104.0 C100.2,102.9 101.8,102.0 103.0,100.0 C104.2,98.0 104.8,95.0 105.0,92.0 C105.2,89.0 104.6,85.5 104.5,82.0 C104.4,78.5 103.3,73.1 104.5,71.0 C105.7,68.9 109.6,70.2 111.9,69.5 C114.2,68.8 116.8,67.2 118.3,67.0 C119.8,66.8 120.2,67.0 121.0,68.0 C121.8,69.0 121.7,71.5 123.4,73.2 C125.1,74.9 129.0,75.8 131.0,78.3 C133.0,80.8 135.3,85.4 135.5,88.0 C135.7,90.6 133.9,92.2 132.0,94.0 C130.1,95.8 126.7,97.4 124.0,98.5 C121.3,99.6 117.6,99.2 116.0,100.5 C114.4,101.8 114.0,104.7 114.4,106.6 C114.8,108.5 116.4,110.6 118.3,111.7 C120.2,112.8 124.2,112.0 125.9,113.0 C127.6,114.0 127.7,115.8 128.5,118.0 C129.3,120.2 134.1,122.3 131.0,126.0 C127.9,129.7 118.5,135.7 110.0,140.0 C101.5,144.3 89.2,150.3 80.0,152.0 C70.8,153.7 60.3,152.3 55.0,150.0 C49.7,147.7 48.5,142.8 48.0,138.0 C47.5,133.2 50.2,124.0 52.0,121.0Z" fill="none" stroke="#ee7408" stroke-opacity="0.75" stroke-width="7.04"/><path d="M52.0,121.0 C53.8,118.0 56.3,120.9 58.5,120.0 C60.7,119.1 62.5,116.9 65.0,115.5 C67.5,114.1 70.8,112.6 73.8,111.5 C76.8,110.4 80.0,109.8 82.7,109.0 C85.4,108.2 87.5,107.3 90.0,106.5 C92.5,105.7 95.8,105.1 98.0,104.0 C100.2,102.9 101.8,102.0 103.0,100.0 C104.2,98.0 104.8,95.0 105.0,92.0 C105.2,89.0 104.6,85.5 104.5,82.0 C104.4,78.5 103.3,73.1 104.5,71.0 C105.7,68.9 109.6,70.2 111.9,69.5 C114.2,68.8 116.8,67.2 118.3,67.0 C119.8,66.8 120.2,67.0 121.0,68.0 C121.8,69.0 121.7,71.5 123.4,73.2 C125.1,74.9 129.0,75.8 131.0,78.3 C133.0,80.8 135.3,85.4 135.5,88.0 C135.7,90.6 133.9,92.2 132.0,94.0 C130.1,95.8 126.7,97.4 124.0,98.5 C121.3,99.6 117.6,99.2 116.0,100.5 C114.4,101.8 114.0,104.7 114.4,106.6 C114.8,108.5 116.4,110.6 118.3,111.7 C120.2,112.8 124.2,112.0 125.9,113.0 C127.6,114.0 127.7,115.8 128.5,118.0 C129.3,120.2 134.1,122.3 131.0,126.0 C127.9,129.7 118.5,135.7 110.0,140.0 C101.5,144.3 89.2,150.3 80.0,152.0 C70.8,153.7 60.3,152.3 55.0,150.0 C49.7,147.7 48.5,142.8 48.0,138.0 C47.5,133.2 50.2,124.0 52.0,121.0Z" fill="none" stroke="#e42a00" stroke-width="3.84"/></g>
<clipPath id="brain1c4"><path d="M124.5,70.0 C124.8,68.9 126.6,68.0 128.0,68.5 C129.4,69.0 131.8,71.2 133.0,73.0 C134.2,74.8 135.3,77.6 135.5,79.0 C135.7,80.4 134.9,81.3 134.0,81.5 C133.1,81.7 131.3,81.1 130.0,80.0 C128.7,78.9 126.9,76.7 126.0,75.0 C125.1,73.3 124.2,71.1 124.5,70.0Z"/></clipPath><path d="M124.5,70.0 C124.8,68.9 126.6,68.0 128.0,68.5 C129.4,69.0 131.8,71.2 133.0,73.0 C134.2,74.8 135.3,77.6 135.5,79.0 C135.7,80.4 134.9,81.3 134.0,81.5 C133.1,81.7 131.3,81.1 130.0,80.0 C128.7,78.9 126.9,76.7 126.0,75.0 C125.1,73.3 124.2,71.1 124.5,70.0Z" fill="none" stroke="#1a64d8" stroke-opacity="0.7" stroke-width="5.72"/><path d="M124.5,70.0 C124.8,68.9 126.6,68.0 128.0,68.5 C129.4,69.0 131.8,71.2 133.0,73.0 C134.2,74.8 135.3,77.6 135.5,79.0 C135.7,80.4 134.9,81.3 134.0,81.5 C133.1,81.7 131.3,81.1 130.0,80.0 C128.7,78.9 126.9,76.7 126.0,75.0 C125.1,73.3 124.2,71.1 124.5,70.0Z" fill="none" stroke="#0c30e0" stroke-width="3.51"/><path d="M124.5,70.0 C124.8,68.9 126.6,68.0 128.0,68.5 C129.4,69.0 131.8,71.2 133.0,73.0 C134.2,74.8 135.3,77.6 135.5,79.0 C135.7,80.4 134.9,81.3 134.0,81.5 C133.1,81.7 131.3,81.1 130.0,80.0 C128.7,78.9 126.9,76.7 126.0,75.0 C125.1,73.3 124.2,71.1 124.5,70.0Z" fill="#e86a10"/><g clip-path="url(#brain1c4)"><path d="M124.5,70.0 C124.8,68.9 126.6,68.0 128.0,68.5 C129.4,69.0 131.8,71.2 133.0,73.0 C134.2,74.8 135.3,77.6 135.5,79.0 C135.7,80.4 134.9,81.3 134.0,81.5 C133.1,81.7 131.3,81.1 130.0,80.0 C128.7,78.9 126.9,76.7 126.0,75.0 C125.1,73.3 124.2,71.1 124.5,70.0Z" fill="none" stroke="#ee7408" stroke-opacity="0.75" stroke-width="5.72"/><path d="M124.5,70.0 C124.8,68.9 126.6,68.0 128.0,68.5 C129.4,69.0 131.8,71.2 133.0,73.0 C134.2,74.8 135.3,77.6 135.5,79.0 C135.7,80.4 134.9,81.3 134.0,81.5 C133.1,81.7 131.3,81.1 130.0,80.0 C128.7,78.9 126.9,76.7 126.0,75.0 C125.1,73.3 124.2,71.1 124.5,70.0Z" fill="none" stroke="#e42a00" stroke-width="3.12"/></g>
</g>
<path d="M14.5,110.0 C14.0,106.8 13.8,102.7 14.0,100.0 C14.2,97.3 14.7,96.5 15.5,94.0 C16.3,91.5 17.6,88.0 19.0,85.0 C20.4,82.0 21.8,78.8 24.0,76.0 C26.2,73.2 28.8,70.4 32.0,68.0 C35.2,65.6 39.0,63.6 43.0,61.7 C47.0,59.8 52.9,57.8 55.7,56.4 C58.5,55.0 57.4,54.5 59.6,53.6 C61.8,52.7 65.9,51.4 69.1,50.7 C72.3,50.0 75.5,49.7 78.7,49.3 C81.9,48.9 85.1,48.6 88.3,48.3 C91.5,48.0 95.2,47.6 97.8,47.6 C100.3,47.6 101.6,47.6 103.6,48.3 C105.6,49.0 107.5,50.2 110.0,51.7 C112.5,53.2 115.6,55.1 118.3,57.2 C121.0,59.3 123.5,61.5 126.0,64.2 C128.6,66.9 131.3,70.2 133.6,73.2 C135.9,76.2 137.9,79.0 140.0,82.0 C142.1,85.0 144.6,88.4 146.3,91.0 C148.0,93.6 149.3,95.1 150.2,97.7 C151.1,100.3 151.6,103.6 151.5,106.6 C151.4,109.6 150.8,113.3 149.5,115.5 C148.2,117.7 146.4,119.0 144.0,120.0 C141.6,121.0 137.6,121.2 135.0,121.3 C132.4,121.4 131.3,120.4 128.5,120.8 C125.7,121.2 121.4,122.5 118.0,123.5 C114.6,124.5 111.0,125.8 108.0,126.5 C105.0,127.2 102.4,127.3 100.0,128.0 C97.6,128.7 95.9,129.6 93.8,130.5 C91.7,131.4 89.5,132.3 87.4,133.5 C85.3,134.7 82.9,136.2 81.0,137.5 C79.1,138.8 77.6,140.5 76.0,141.6 C74.4,142.7 73.1,143.6 71.5,144.1 C69.9,144.6 68.3,144.9 66.4,144.8 C64.5,144.7 61.6,144.2 60.0,143.5 C58.4,142.8 57.3,141.8 56.5,140.5 C55.7,139.2 55.2,137.5 55.0,136.0 C54.8,134.5 55.8,132.7 55.0,131.5 C54.2,130.3 52.5,129.2 50.0,128.8 C47.5,128.4 43.5,129.1 40.0,129.0 C36.5,128.9 32.1,129.0 29.0,128.3 C25.9,127.7 23.5,126.6 21.5,125.1 C19.5,123.6 18.2,121.8 17.0,119.3 C15.8,116.8 15.0,113.2 14.5,110.0Z" fill="url(#shg)"/><path d="M14.5,110.0 C14.0,106.8 13.8,102.7 14.0,100.0 C14.2,97.3 14.7,96.5 15.5,94.0 C16.3,91.5 17.6,88.0 19.0,85.0 C20.4,82.0 21.8,78.8 24.0,76.0 C26.2,73.2 28.8,70.4 32.0,68.0 C35.2,65.6 39.0,63.6 43.0,61.7 C47.0,59.8 52.9,57.8 55.7,56.4 C58.5,55.0 57.4,54.5 59.6,53.6 C61.8,52.7 65.9,51.4 69.1,50.7 C72.3,50.0 75.5,49.7 78.7,49.3 C81.9,48.9 85.1,48.6 88.3,48.3 C91.5,48.0 95.2,47.6 97.8,47.6 C100.3,47.6 101.6,47.6 103.6,48.3 C105.6,49.0 107.5,50.2 110.0,51.7 C112.5,53.2 115.6,55.1 118.3,57.2 C121.0,59.3 123.5,61.5 126.0,64.2 C128.6,66.9 131.3,70.2 133.6,73.2 C135.9,76.2 137.9,79.0 140.0,82.0 C142.1,85.0 144.6,88.4 146.3,91.0 C148.0,93.6 149.3,95.1 150.2,97.7 C151.1,100.3 151.6,103.6 151.5,106.6 C151.4,109.6 150.8,113.3 149.5,115.5 C148.2,117.7 146.4,119.0 144.0,120.0 C141.6,121.0 137.6,121.2 135.0,121.3 C132.4,121.4 131.3,120.4 128.5,120.8 C125.7,121.2 121.4,122.5 118.0,123.5 C114.6,124.5 111.0,125.8 108.0,126.5 C105.0,127.2 102.4,127.3 100.0,128.0 C97.6,128.7 95.9,129.6 93.8,130.5 C91.7,131.4 89.5,132.3 87.4,133.5 C85.3,134.7 82.9,136.2 81.0,137.5 C79.1,138.8 77.6,140.5 76.0,141.6 C74.4,142.7 73.1,143.6 71.5,144.1 C69.9,144.6 68.3,144.9 66.4,144.8 C64.5,144.7 61.6,144.2 60.0,143.5 C58.4,142.8 57.3,141.8 56.5,140.5 C55.7,139.2 55.2,137.5 55.0,136.0 C54.8,134.5 55.8,132.7 55.0,131.5 C54.2,130.3 52.5,129.2 50.0,128.8 C47.5,128.4 43.5,129.1 40.0,129.0 C36.5,128.9 32.1,129.0 29.0,128.3 C25.9,127.7 23.5,126.6 21.5,125.1 C19.5,123.6 18.2,121.8 17.0,119.3 C15.8,116.8 15.0,113.2 14.5,110.0Z" fill="none" stroke="#000" stroke-opacity="0.4" stroke-width="6" filter="url(#bl2)"/>
</g></g>
<g filter="url(#pil)"><clipPath id="b2s"><path d="M165.4,104.6 C165.6,102.4 166.1,102.5 167.2,100.0 C168.3,97.5 170.2,92.7 172.0,89.3 C173.8,85.9 175.7,82.8 177.9,79.7 C180.1,76.6 182.7,73.3 185.1,70.7 C187.5,68.1 189.9,66.0 192.3,64.1 C194.7,62.2 196.9,61.0 199.5,59.4 C202.1,57.8 205.2,56.0 207.8,54.6 C210.4,53.2 212.4,51.9 215.0,51.0 C217.6,50.1 220.1,49.7 223.4,49.5 C226.7,49.3 231.9,49.3 235.0,49.8 C238.1,50.2 238.8,51.3 242.0,52.2 C245.2,53.1 250.3,54.0 253.9,55.2 C257.5,56.4 260.3,57.7 263.5,59.4 C266.7,61.1 270.1,63.3 273.1,65.3 C276.1,67.3 278.8,69.1 281.4,71.3 C284.0,73.5 286.4,75.9 288.6,78.5 C290.8,81.1 292.8,84.1 294.6,86.9 C296.4,89.7 298.1,92.2 299.4,95.2 C300.7,98.2 302.1,101.4 302.5,104.6 C302.9,107.8 302.4,111.1 301.8,114.1 C301.2,117.1 300.2,120.1 298.8,122.5 C297.4,124.9 295.7,127.1 293.4,128.5 C291.1,129.9 288.0,130.5 285.0,130.9 C282.0,131.3 278.7,131.0 275.5,130.9 C272.3,130.8 268.3,130.2 265.9,130.3 C263.5,130.4 261.9,130.6 261.0,131.5 C260.1,132.4 260.7,134.3 260.5,136.0 C260.3,137.7 260.6,140.0 259.9,141.7 C259.2,143.4 257.9,145.3 256.3,146.4 C254.7,147.5 252.5,148.2 250.3,148.2 C248.1,148.2 245.6,147.3 243.2,146.4 C240.8,145.5 238.0,144.0 236.0,142.8 C234.0,141.7 232.7,141.0 231.0,139.5 C229.3,138.0 227.9,135.4 226.0,134.0 C224.1,132.6 222.2,131.8 219.8,130.9 C217.4,130.0 214.2,129.2 211.4,128.5 C208.6,127.8 206.1,127.3 203.1,126.7 C200.1,126.1 196.7,125.4 193.5,124.9 C190.3,124.4 186.9,124.0 183.9,123.7 C180.9,123.4 178.0,123.7 175.6,123.1 C173.2,122.5 171.2,121.8 169.6,120.1 C168.0,118.4 166.7,115.5 166.0,112.9 C165.3,110.3 165.2,106.8 165.4,104.6Z"/></clipPath>
<g clip-path="url(#b2s)"><g filter="url(#bl1)">
<path d="M165.4,104.6 C165.6,102.4 166.1,102.5 167.2,100.0 C168.3,97.5 170.2,92.7 172.0,89.3 C173.8,85.9 175.7,82.8 177.9,79.7 C180.1,76.6 182.7,73.3 185.1,70.7 C187.5,68.1 189.9,66.0 192.3,64.1 C194.7,62.2 196.9,61.0 199.5,59.4 C202.1,57.8 205.2,56.0 207.8,54.6 C210.4,53.2 212.4,51.9 215.0,51.0 C217.6,50.1 220.1,49.7 223.4,49.5 C226.7,49.3 231.9,49.3 235.0,49.8 C238.1,50.2 238.8,51.3 242.0,52.2 C245.2,53.1 250.3,54.0 253.9,55.2 C257.5,56.4 260.3,57.7 263.5,59.4 C266.7,61.1 270.1,63.3 273.1,65.3 C276.1,67.3 278.8,69.1 281.4,71.3 C284.0,73.5 286.4,75.9 288.6,78.5 C290.8,81.1 292.8,84.1 294.6,86.9 C296.4,89.7 298.1,92.2 299.4,95.2 C300.7,98.2 302.1,101.4 302.5,104.6 C302.9,107.8 302.4,111.1 301.8,114.1 C301.2,117.1 300.2,120.1 298.8,122.5 C297.4,124.9 295.7,127.1 293.4,128.5 C291.1,129.9 288.0,130.5 285.0,130.9 C282.0,131.3 278.7,131.0 275.5,130.9 C272.3,130.8 268.3,130.2 265.9,130.3 C263.5,130.4 261.9,130.6 261.0,131.5 C260.1,132.4 260.7,134.3 260.5,136.0 C260.3,137.7 260.6,140.0 259.9,141.7 C259.2,143.4 257.9,145.3 256.3,146.4 C254.7,147.5 252.5,148.2 250.3,148.2 C248.1,148.2 245.6,147.3 243.2,146.4 C240.8,145.5 238.0,144.0 236.0,142.8 C234.0,141.7 232.7,141.0 231.0,139.5 C229.3,138.0 227.9,135.4 226.0,134.0 C224.1,132.6 222.2,131.8 219.8,130.9 C217.4,130.0 214.2,129.2 211.4,128.5 C208.6,127.8 206.1,127.3 203.1,126.7 C200.1,126.1 196.7,125.4 193.5,124.9 C190.3,124.4 186.9,124.0 183.9,123.7 C180.9,123.4 178.0,123.7 175.6,123.1 C173.2,122.5 171.2,121.8 169.6,120.1 C168.0,118.4 166.7,115.5 166.0,112.9 C165.3,110.3 165.2,106.8 165.4,104.6Z" fill="#0cd888"/>
<path d="M216.0,55.0 C217.2,53.2 222.0,52.7 225.0,53.0 C228.0,53.3 232.3,55.0 234.0,57.0 C235.7,59.0 236.2,63.2 235.0,65.0 C233.8,66.8 229.8,68.2 227.0,68.0 C224.2,67.8 219.8,66.2 218.0,64.0 C216.2,61.8 214.8,56.8 216.0,55.0Z" fill="#1a90c0" fill-opacity="0.7"/>
<path d="M240.0,60.0 C242.8,58.3 251.3,58.3 255.0,60.0 C258.7,61.7 262.8,67.7 262.0,70.0 C261.2,72.3 254.0,74.0 250.0,74.0 C246.0,74.0 239.7,72.3 238.0,70.0 C236.3,67.7 237.2,61.7 240.0,60.0Z" fill="#06e882" fill-opacity="0.85"/>
<path d="M170.0,95.0 C171.0,90.5 175.3,87.5 178.0,85.0 C180.7,82.5 184.7,77.5 186.0,80.0 C187.3,82.5 187.0,95.0 186.0,100.0 C185.0,105.0 182.3,108.0 180.0,110.0 C177.7,112.0 173.7,114.5 172.0,112.0 C170.3,109.5 169.0,99.5 170.0,95.0Z" fill="#20b8a8" fill-opacity="0.7"/>
<path d="M182.0,118.0 C184.5,116.8 191.0,116.8 195.0,117.0 C199.0,117.2 204.5,117.3 206.0,119.0 C207.5,120.7 206.7,125.7 204.0,127.0 C201.3,128.3 194.0,127.5 190.0,127.0 C186.0,126.5 181.3,125.5 180.0,124.0 C178.7,122.5 179.5,119.2 182.0,118.0Z" fill="#1040d8" fill-opacity="0.95"/>
<clipPath id="brain2c1"><path d="M189.9,67.7 C191.1,66.1 193.7,66.5 195.9,66.5 C198.1,66.5 200.7,66.9 203.1,67.7 C205.5,68.5 207.8,69.9 210.2,71.3 C212.6,72.7 215.0,74.7 217.4,76.1 C219.8,77.5 222.2,78.9 224.6,79.7 C227.0,80.5 229.3,80.8 231.8,80.9 C234.3,81.0 237.1,80.1 239.6,80.3 C242.1,80.5 244.8,81.2 247.0,82.0 C249.2,82.8 251.6,83.7 253.0,85.0 C254.4,86.3 255.2,88.0 255.5,90.0 C255.8,92.0 254.7,94.7 255.0,97.0 C255.3,99.3 256.3,102.2 257.5,104.0 C258.7,105.8 259.9,107.4 262.0,108.0 C264.1,108.6 267.7,108.2 270.0,107.5 C272.3,106.8 274.4,105.4 276.0,104.0 C277.6,102.6 279.0,100.9 279.5,99.0 C280.0,97.1 279.4,94.8 279.0,92.8 C278.6,90.8 278.0,88.9 277.2,86.9 C276.4,84.9 275.2,83.1 274.3,80.9 C273.4,78.7 273.1,75.9 271.9,73.7 C270.7,71.5 268.9,69.7 267.1,67.7 C265.3,65.7 263.1,63.6 261.1,61.7 C259.1,59.8 256.6,58.4 255.1,56.4 C253.6,54.4 244.5,52.7 252.0,50.0 C259.5,47.3 288.7,31.7 300.0,40.0 C311.3,48.3 318.3,83.3 320.0,100.0 C321.7,116.7 320.0,130.0 310.0,140.0 C300.0,150.0 275.3,158.3 260.0,160.0 C244.7,161.7 226.3,154.7 218.0,150.0 C209.7,145.3 212.3,135.8 210.0,132.0 C207.7,128.2 204.9,129.5 204.0,127.5 C203.1,125.5 202.9,121.9 204.3,120.1 C205.7,118.3 212.5,118.1 212.6,116.5 C212.7,114.9 207.4,112.4 205.0,110.5 C202.6,108.6 200.1,106.8 198.0,105.0 C195.9,103.2 193.6,101.5 192.3,99.5 C191.1,97.5 191.0,95.3 190.5,92.8 C190.0,90.3 189.6,87.3 189.3,84.5 C189.0,81.7 188.6,78.9 188.7,76.1 C188.8,73.3 188.7,69.3 189.9,67.7Z"/></clipPath><path d="M189.9,67.7 C191.1,66.1 193.7,66.5 195.9,66.5 C198.1,66.5 200.7,66.9 203.1,67.7 C205.5,68.5 207.8,69.9 210.2,71.3 C212.6,72.7 215.0,74.7 217.4,76.1 C219.8,77.5 222.2,78.9 224.6,79.7 C227.0,80.5 229.3,80.8 231.8,80.9 C234.3,81.0 237.1,80.1 239.6,80.3 C242.1,80.5 244.8,81.2 247.0,82.0 C249.2,82.8 251.6,83.7 253.0,85.0 C254.4,86.3 255.2,88.0 255.5,90.0 C255.8,92.0 254.7,94.7 255.0,97.0 C255.3,99.3 256.3,102.2 257.5,104.0 C258.7,105.8 259.9,107.4 262.0,108.0 C264.1,108.6 267.7,108.2 270.0,107.5 C272.3,106.8 274.4,105.4 276.0,104.0 C277.6,102.6 279.0,100.9 279.5,99.0 C280.0,97.1 279.4,94.8 279.0,92.8 C278.6,90.8 278.0,88.9 277.2,86.9 C276.4,84.9 275.2,83.1 274.3,80.9 C273.4,78.7 273.1,75.9 271.9,73.7 C270.7,71.5 268.9,69.7 267.1,67.7 C265.3,65.7 263.1,63.6 261.1,61.7 C259.1,59.8 256.6,58.4 255.1,56.4 C253.6,54.4 244.5,52.7 252.0,50.0 C259.5,47.3 288.7,31.7 300.0,40.0 C311.3,48.3 318.3,83.3 320.0,100.0 C321.7,116.7 320.0,130.0 310.0,140.0 C300.0,150.0 275.3,158.3 260.0,160.0 C244.7,161.7 226.3,154.7 218.0,150.0 C209.7,145.3 212.3,135.8 210.0,132.0 C207.7,128.2 204.9,129.5 204.0,127.5 C203.1,125.5 202.9,121.9 204.3,120.1 C205.7,118.3 212.5,118.1 212.6,116.5 C212.7,114.9 207.4,112.4 205.0,110.5 C202.6,108.6 200.1,106.8 198.0,105.0 C195.9,103.2 193.6,101.5 192.3,99.5 C191.1,97.5 191.0,95.3 190.5,92.8 C190.0,90.3 189.6,87.3 189.3,84.5 C189.0,81.7 188.6,78.9 188.7,76.1 C188.8,73.3 188.7,69.3 189.9,67.7Z" fill="none" stroke="#1a64d8" stroke-opacity="0.7" stroke-width="6.60"/><path d="M189.9,67.7 C191.1,66.1 193.7,66.5 195.9,66.5 C198.1,66.5 200.7,66.9 203.1,67.7 C205.5,68.5 207.8,69.9 210.2,71.3 C212.6,72.7 215.0,74.7 217.4,76.1 C219.8,77.5 222.2,78.9 224.6,79.7 C227.0,80.5 229.3,80.8 231.8,80.9 C234.3,81.0 237.1,80.1 239.6,80.3 C242.1,80.5 244.8,81.2 247.0,82.0 C249.2,82.8 251.6,83.7 253.0,85.0 C254.4,86.3 255.2,88.0 255.5,90.0 C255.8,92.0 254.7,94.7 255.0,97.0 C255.3,99.3 256.3,102.2 257.5,104.0 C258.7,105.8 259.9,107.4 262.0,108.0 C264.1,108.6 267.7,108.2 270.0,107.5 C272.3,106.8 274.4,105.4 276.0,104.0 C277.6,102.6 279.0,100.9 279.5,99.0 C280.0,97.1 279.4,94.8 279.0,92.8 C278.6,90.8 278.0,88.9 277.2,86.9 C276.4,84.9 275.2,83.1 274.3,80.9 C273.4,78.7 273.1,75.9 271.9,73.7 C270.7,71.5 268.9,69.7 267.1,67.7 C265.3,65.7 263.1,63.6 261.1,61.7 C259.1,59.8 256.6,58.4 255.1,56.4 C253.6,54.4 244.5,52.7 252.0,50.0 C259.5,47.3 288.7,31.7 300.0,40.0 C311.3,48.3 318.3,83.3 320.0,100.0 C321.7,116.7 320.0,130.0 310.0,140.0 C300.0,150.0 275.3,158.3 260.0,160.0 C244.7,161.7 226.3,154.7 218.0,150.0 C209.7,145.3 212.3,135.8 210.0,132.0 C207.7,128.2 204.9,129.5 204.0,127.5 C203.1,125.5 202.9,121.9 204.3,120.1 C205.7,118.3 212.5,118.1 212.6,116.5 C212.7,114.9 207.4,112.4 205.0,110.5 C202.6,108.6 200.1,106.8 198.0,105.0 C195.9,103.2 193.6,101.5 192.3,99.5 C191.1,97.5 191.0,95.3 190.5,92.8 C190.0,90.3 189.6,87.3 189.3,84.5 C189.0,81.7 188.6,78.9 188.7,76.1 C188.8,73.3 188.7,69.3 189.9,67.7Z" fill="none" stroke="#0c30e0" stroke-width="4.05"/><path d="M189.9,67.7 C191.1,66.1 193.7,66.5 195.9,66.5 C198.1,66.5 200.7,66.9 203.1,67.7 C205.5,68.5 207.8,69.9 210.2,71.3 C212.6,72.7 215.0,74.7 217.4,76.1 C219.8,77.5 222.2,78.9 224.6,79.7 C227.0,80.5 229.3,80.8 231.8,80.9 C234.3,81.0 237.1,80.1 239.6,80.3 C242.1,80.5 244.8,81.2 247.0,82.0 C249.2,82.8 251.6,83.7 253.0,85.0 C254.4,86.3 255.2,88.0 255.5,90.0 C255.8,92.0 254.7,94.7 255.0,97.0 C255.3,99.3 256.3,102.2 257.5,104.0 C258.7,105.8 259.9,107.4 262.0,108.0 C264.1,108.6 267.7,108.2 270.0,107.5 C272.3,106.8 274.4,105.4 276.0,104.0 C277.6,102.6 279.0,100.9 279.5,99.0 C280.0,97.1 279.4,94.8 279.0,92.8 C278.6,90.8 278.0,88.9 277.2,86.9 C276.4,84.9 275.2,83.1 274.3,80.9 C273.4,78.7 273.1,75.9 271.9,73.7 C270.7,71.5 268.9,69.7 267.1,67.7 C265.3,65.7 263.1,63.6 261.1,61.7 C259.1,59.8 256.6,58.4 255.1,56.4 C253.6,54.4 244.5,52.7 252.0,50.0 C259.5,47.3 288.7,31.7 300.0,40.0 C311.3,48.3 318.3,83.3 320.0,100.0 C321.7,116.7 320.0,130.0 310.0,140.0 C300.0,150.0 275.3,158.3 260.0,160.0 C244.7,161.7 226.3,154.7 218.0,150.0 C209.7,145.3 212.3,135.8 210.0,132.0 C207.7,128.2 204.9,129.5 204.0,127.5 C203.1,125.5 202.9,121.9 204.3,120.1 C205.7,118.3 212.5,118.1 212.6,116.5 C212.7,114.9 207.4,112.4 205.0,110.5 C202.6,108.6 200.1,106.8 198.0,105.0 C195.9,103.2 193.6,101.5 192.3,99.5 C191.1,97.5 191.0,95.3 190.5,92.8 C190.0,90.3 189.6,87.3 189.3,84.5 C189.0,81.7 188.6,78.9 188.7,76.1 C188.8,73.3 188.7,69.3 189.9,67.7Z" fill="#e8ee00"/><g clip-path="url(#brain2c1)"><path d="M222.0,84.0 C225.3,82.3 235.0,83.3 240.0,84.0 C245.0,84.7 249.7,85.3 252.0,88.0 C254.3,90.7 253.0,96.3 254.0,100.0 C255.0,103.7 258.7,108.0 258.0,110.0 C257.3,112.0 253.7,112.0 250.0,112.0 C246.3,112.0 240.0,111.3 236.0,110.0 C232.0,108.7 228.7,106.7 226.0,104.0 C223.3,101.3 220.7,97.3 220.0,94.0 C219.3,90.7 218.7,85.7 222.0,84.0Z" fill="#e64c08" fill-opacity="0.9"/><path d="M262.0,56.0 C263.0,55.0 271.3,60.7 276.0,64.0 C280.7,67.3 286.0,71.3 290.0,76.0 C294.0,80.7 297.7,87.0 300.0,92.0 C302.3,97.0 303.5,101.7 304.0,106.0 C304.5,110.3 304.3,116.3 303.0,118.0 C301.7,119.7 298.2,118.0 296.0,116.0 C293.8,114.0 292.0,109.3 290.0,106.0 C288.0,102.7 286.0,99.7 284.0,96.0 C282.0,92.3 280.3,88.3 278.0,84.0 C275.7,79.7 272.7,74.7 270.0,70.0 C267.3,65.3 261.0,57.0 262.0,56.0Z" fill="#e4a40c" fill-opacity="0.95"/><path d="M258.0,56.0 C258.7,55.3 263.3,59.3 266.0,62.0 C268.7,64.7 271.7,68.3 274.0,72.0 C276.3,75.7 278.5,80.0 280.0,84.0 C281.5,88.0 282.3,92.0 283.0,96.0 C283.7,100.0 284.5,105.7 284.0,108.0 C283.5,110.3 281.2,111.3 280.0,110.0 C278.8,108.7 277.7,103.7 277.0,100.0 C276.3,96.3 277.2,92.0 276.0,88.0 C274.8,84.0 272.3,79.7 270.0,76.0 C267.7,72.3 264.0,69.3 262.0,66.0 C260.0,62.7 257.3,56.7 258.0,56.0Z" fill="#e25a08" fill-opacity="0.9"/><path d="M284.0,90.0 C284.7,89.7 286.3,93.3 287.0,96.0 C287.7,98.7 288.3,104.0 288.0,106.0 C287.7,108.0 285.8,109.3 285.0,108.0 C284.2,106.7 283.2,101.0 283.0,98.0 C282.8,95.0 283.3,90.3 284.0,90.0Z" fill="#c04010" fill-opacity="0.5"/><path d="M238.0,110.0 C241.7,107.7 252.7,107.8 260.0,108.0 C267.3,108.2 275.3,110.0 282.0,111.0 C288.7,112.0 297.0,111.5 300.0,114.0 C303.0,116.5 303.3,123.3 300.0,126.0 C296.7,128.7 287.3,129.7 280.0,130.0 C272.7,130.3 263.0,129.3 256.0,128.0 C249.0,126.7 241.0,125.0 238.0,122.0 C235.0,119.0 234.3,112.3 238.0,110.0Z" fill="#e6ea00" fill-opacity="0.95"/><path d="M192.0,72.0 C193.7,69.0 198.7,69.3 202.0,70.0 C205.3,70.7 209.3,73.3 212.0,76.0 C214.7,78.7 217.7,82.3 218.0,86.0 C218.3,89.7 216.0,94.3 214.0,98.0 C212.0,101.7 209.0,107.7 206.0,108.0 C203.0,108.3 198.3,103.3 196.0,100.0 C193.7,96.7 192.7,92.7 192.0,88.0 C191.3,83.3 190.3,75.0 192.0,72.0Z" fill="#eaf000" fill-opacity="0.9"/><path d="M207.0,118.0 C208.3,117.2 212.2,118.3 214.0,120.0 C215.8,121.7 218.3,126.7 218.0,128.0 C217.7,129.3 214.0,128.5 212.0,128.0 C210.0,127.5 206.8,126.7 206.0,125.0 C205.2,123.3 205.7,118.8 207.0,118.0Z" fill="#e44008" fill-opacity="0.8"/><path d="M189.9,67.7 C191.1,66.1 193.7,66.5 195.9,66.5 C198.1,66.5 200.7,66.9 203.1,67.7 C205.5,68.5 207.8,69.9 210.2,71.3 C212.6,72.7 215.0,74.7 217.4,76.1 C219.8,77.5 222.2,78.9 224.6,79.7 C227.0,80.5 229.3,80.8 231.8,80.9 C234.3,81.0 237.1,80.1 239.6,80.3 C242.1,80.5 244.8,81.2 247.0,82.0 C249.2,82.8 251.6,83.7 253.0,85.0 C254.4,86.3 255.2,88.0 255.5,90.0 C255.8,92.0 254.7,94.7 255.0,97.0 C255.3,99.3 256.3,102.2 257.5,104.0 C258.7,105.8 259.9,107.4 262.0,108.0 C264.1,108.6 267.7,108.2 270.0,107.5 C272.3,106.8 274.4,105.4 276.0,104.0 C277.6,102.6 279.0,100.9 279.5,99.0 C280.0,97.1 279.4,94.8 279.0,92.8 C278.6,90.8 278.0,88.9 277.2,86.9 C276.4,84.9 275.2,83.1 274.3,80.9 C273.4,78.7 273.1,75.9 271.9,73.7 C270.7,71.5 268.9,69.7 267.1,67.7 C265.3,65.7 263.1,63.6 261.1,61.7 C259.1,59.8 256.6,58.4 255.1,56.4 C253.6,54.4 244.5,52.7 252.0,50.0 C259.5,47.3 288.7,31.7 300.0,40.0 C311.3,48.3 318.3,83.3 320.0,100.0 C321.7,116.7 320.0,130.0 310.0,140.0 C300.0,150.0 275.3,158.3 260.0,160.0 C244.7,161.7 226.3,154.7 218.0,150.0 C209.7,145.3 212.3,135.8 210.0,132.0 C207.7,128.2 204.9,129.5 204.0,127.5 C203.1,125.5 202.9,121.9 204.3,120.1 C205.7,118.3 212.5,118.1 212.6,116.5 C212.7,114.9 207.4,112.4 205.0,110.5 C202.6,108.6 200.1,106.8 198.0,105.0 C195.9,103.2 193.6,101.5 192.3,99.5 C191.1,97.5 191.0,95.3 190.5,92.8 C190.0,90.3 189.6,87.3 189.3,84.5 C189.0,81.7 188.6,78.9 188.7,76.1 C188.8,73.3 188.7,69.3 189.9,67.7Z" fill="none" stroke="#ee7408" stroke-opacity="0.75" stroke-width="6.60"/><path d="M189.9,67.7 C191.1,66.1 193.7,66.5 195.9,66.5 C198.1,66.5 200.7,66.9 203.1,67.7 C205.5,68.5 207.8,69.9 210.2,71.3 C212.6,72.7 215.0,74.7 217.4,76.1 C219.8,77.5 222.2,78.9 224.6,79.7 C227.0,80.5 229.3,80.8 231.8,80.9 C234.3,81.0 237.1,80.1 239.6,80.3 C242.1,80.5 244.8,81.2 247.0,82.0 C249.2,82.8 251.6,83.7 253.0,85.0 C254.4,86.3 255.2,88.0 255.5,90.0 C255.8,92.0 254.7,94.7 255.0,97.0 C255.3,99.3 256.3,102.2 257.5,104.0 C258.7,105.8 259.9,107.4 262.0,108.0 C264.1,108.6 267.7,108.2 270.0,107.5 C272.3,106.8 274.4,105.4 276.0,104.0 C277.6,102.6 279.0,100.9 279.5,99.0 C280.0,97.1 279.4,94.8 279.0,92.8 C278.6,90.8 278.0,88.9 277.2,86.9 C276.4,84.9 275.2,83.1 274.3,80.9 C273.4,78.7 273.1,75.9 271.9,73.7 C270.7,71.5 268.9,69.7 267.1,67.7 C265.3,65.7 263.1,63.6 261.1,61.7 C259.1,59.8 256.6,58.4 255.1,56.4 C253.6,54.4 244.5,52.7 252.0,50.0 C259.5,47.3 288.7,31.7 300.0,40.0 C311.3,48.3 318.3,83.3 320.0,100.0 C321.7,116.7 320.0,130.0 310.0,140.0 C300.0,150.0 275.3,158.3 260.0,160.0 C244.7,161.7 226.3,154.7 218.0,150.0 C209.7,145.3 212.3,135.8 210.0,132.0 C207.7,128.2 204.9,129.5 204.0,127.5 C203.1,125.5 202.9,121.9 204.3,120.1 C205.7,118.3 212.5,118.1 212.6,116.5 C212.7,114.9 207.4,112.4 205.0,110.5 C202.6,108.6 200.1,106.8 198.0,105.0 C195.9,103.2 193.6,101.5 192.3,99.5 C191.1,97.5 191.0,95.3 190.5,92.8 C190.0,90.3 189.6,87.3 189.3,84.5 C189.0,81.7 188.6,78.9 188.7,76.1 C188.8,73.3 188.7,69.3 189.9,67.7Z" fill="none" stroke="#e42a00" stroke-width="3.60"/></g>
<clipPath id="brain2c2"><path d="M226.0,87.0 C226.9,86.1 229.2,85.4 231.0,85.5 C232.8,85.6 235.5,86.4 236.5,87.5 C237.5,88.6 237.6,90.8 237.0,92.0 C236.4,93.2 234.5,94.6 233.0,95.0 C231.5,95.4 229.2,95.2 228.0,94.5 C226.8,93.8 225.8,92.2 225.5,91.0 C225.2,89.8 225.1,87.9 226.0,87.0Z"/></clipPath><path d="M226.0,87.0 C226.9,86.1 229.2,85.4 231.0,85.5 C232.8,85.6 235.5,86.4 236.5,87.5 C237.5,88.6 237.6,90.8 237.0,92.0 C236.4,93.2 234.5,94.6 233.0,95.0 C231.5,95.4 229.2,95.2 228.0,94.5 C226.8,93.8 225.8,92.2 225.5,91.0 C225.2,89.8 225.1,87.9 226.0,87.0Z" fill="none" stroke="#ee7408" stroke-opacity="0.7" stroke-width="5.28"/><path d="M226.0,87.0 C226.9,86.1 229.2,85.4 231.0,85.5 C232.8,85.6 235.5,86.4 236.5,87.5 C237.5,88.6 237.6,90.8 237.0,92.0 C236.4,93.2 234.5,94.6 233.0,95.0 C231.5,95.4 229.2,95.2 228.0,94.5 C226.8,93.8 225.8,92.2 225.5,91.0 C225.2,89.8 225.1,87.9 226.0,87.0Z" fill="none" stroke="#e42a00" stroke-width="3.24"/><path d="M226.0,87.0 C226.9,86.1 229.2,85.4 231.0,85.5 C232.8,85.6 235.5,86.4 236.5,87.5 C237.5,88.6 237.6,90.8 237.0,92.0 C236.4,93.2 234.5,94.6 233.0,95.0 C231.5,95.4 229.2,95.2 228.0,94.5 C226.8,93.8 225.8,92.2 225.5,91.0 C225.2,89.8 225.1,87.9 226.0,87.0Z" fill="#1050e0"/><g clip-path="url(#brain2c2)"><path d="M226.0,87.0 C226.9,86.1 229.2,85.4 231.0,85.5 C232.8,85.6 235.5,86.4 236.5,87.5 C237.5,88.6 237.6,90.8 237.0,92.0 C236.4,93.2 234.5,94.6 233.0,95.0 C231.5,95.4 229.2,95.2 228.0,94.5 C226.8,93.8 225.8,92.2 225.5,91.0 C225.2,89.8 225.1,87.9 226.0,87.0Z" fill="none" stroke="#1a64d8" stroke-opacity="0.75" stroke-width="5.28"/><path d="M226.0,87.0 C226.9,86.1 229.2,85.4 231.0,85.5 C232.8,85.6 235.5,86.4 236.5,87.5 C237.5,88.6 237.6,90.8 237.0,92.0 C236.4,93.2 234.5,94.6 233.0,95.0 C231.5,95.4 229.2,95.2 228.0,94.5 C226.8,93.8 225.8,92.2 225.5,91.0 C225.2,89.8 225.1,87.9 226.0,87.0Z" fill="none" stroke="#0c30e0" stroke-width="2.88"/></g>
<clipPath id="brain2c3"><path d="M228.0,101.0 C229.0,99.2 231.3,99.0 233.0,99.0 C234.7,99.0 236.9,99.7 238.0,101.0 C239.1,102.3 239.5,105.0 239.5,107.0 C239.5,109.0 238.9,111.3 238.0,113.0 C237.1,114.7 235.5,116.5 234.0,117.0 C232.5,117.5 230.2,117.2 229.0,116.0 C227.8,114.8 227.2,112.5 227.0,110.0 C226.8,107.5 227.0,102.8 228.0,101.0Z"/></clipPath><path d="M228.0,101.0 C229.0,99.2 231.3,99.0 233.0,99.0 C234.7,99.0 236.9,99.7 238.0,101.0 C239.1,102.3 239.5,105.0 239.5,107.0 C239.5,109.0 238.9,111.3 238.0,113.0 C237.1,114.7 235.5,116.5 234.0,117.0 C232.5,117.5 230.2,117.2 229.0,116.0 C227.8,114.8 227.2,112.5 227.0,110.0 C226.8,107.5 227.0,102.8 228.0,101.0Z" fill="none" stroke="#ee7408" stroke-opacity="0.7" stroke-width="5.72"/><path d="M228.0,101.0 C229.0,99.2 231.3,99.0 233.0,99.0 C234.7,99.0 236.9,99.7 238.0,101.0 C239.1,102.3 239.5,105.0 239.5,107.0 C239.5,109.0 238.9,111.3 238.0,113.0 C237.1,114.7 235.5,116.5 234.0,117.0 C232.5,117.5 230.2,117.2 229.0,116.0 C227.8,114.8 227.2,112.5 227.0,110.0 C226.8,107.5 227.0,102.8 228.0,101.0Z" fill="none" stroke="#e42a00" stroke-width="3.51"/><path d="M228.0,101.0 C229.0,99.2 231.3,99.0 233.0,99.0 C234.7,99.0 236.9,99.7 238.0,101.0 C239.1,102.3 239.5,105.0 239.5,107.0 C239.5,109.0 238.9,111.3 238.0,113.0 C237.1,114.7 235.5,116.5 234.0,117.0 C232.5,117.5 230.2,117.2 229.0,116.0 C227.8,114.8 227.2,112.5 227.0,110.0 C226.8,107.5 227.0,102.8 228.0,101.0Z" fill="#18a0b8"/><g clip-path="url(#brain2c3)"><path d="M228.0,101.0 C229.0,99.2 231.3,99.0 233.0,99.0 C234.7,99.0 236.9,99.7 238.0,101.0 C239.1,102.3 239.5,105.0 239.5,107.0 C239.5,109.0 238.9,111.3 238.0,113.0 C237.1,114.7 235.5,116.5 234.0,117.0 C232.5,117.5 230.2,117.2 229.0,116.0 C227.8,114.8 227.2,112.5 227.0,110.0 C226.8,107.5 227.0,102.8 228.0,101.0Z" fill="none" stroke="#1a64d8" stroke-opacity="0.75" stroke-width="5.72"/><path d="M228.0,101.0 C229.0,99.2 231.3,99.0 233.0,99.0 C234.7,99.0 236.9,99.7 238.0,101.0 C239.1,102.3 239.5,105.0 239.5,107.0 C239.5,109.0 238.9,111.3 238.0,113.0 C237.1,114.7 235.5,116.5 234.0,117.0 C232.5,117.5 230.2,117.2 229.0,116.0 C227.8,114.8 227.2,112.5 227.0,110.0 C226.8,107.5 227.0,102.8 228.0,101.0Z" fill="none" stroke="#0c30e0" stroke-width="3.12"/></g>
<path d="M232,120.5 C242,122 252,125 264,128.6" fill="none" stroke="#e42a00" stroke-width="3.2" stroke-linecap="round" stroke-opacity="0.8"/>
<path d="M248,124 C254,125.6 259,127 264,128.6" fill="none" stroke="#0c30e0" stroke-width="1.8" stroke-linecap="round"/>
</g>
<path d="M165.4,104.6 C165.6,102.4 166.1,102.5 167.2,100.0 C168.3,97.5 170.2,92.7 172.0,89.3 C173.8,85.9 175.7,82.8 177.9,79.7 C180.1,76.6 182.7,73.3 185.1,70.7 C187.5,68.1 189.9,66.0 192.3,64.1 C194.7,62.2 196.9,61.0 199.5,59.4 C202.1,57.8 205.2,56.0 207.8,54.6 C210.4,53.2 212.4,51.9 215.0,51.0 C217.6,50.1 220.1,49.7 223.4,49.5 C226.7,49.3 231.9,49.3 235.0,49.8 C238.1,50.2 238.8,51.3 242.0,52.2 C245.2,53.1 250.3,54.0 253.9,55.2 C257.5,56.4 260.3,57.7 263.5,59.4 C266.7,61.1 270.1,63.3 273.1,65.3 C276.1,67.3 278.8,69.1 281.4,71.3 C284.0,73.5 286.4,75.9 288.6,78.5 C290.8,81.1 292.8,84.1 294.6,86.9 C296.4,89.7 298.1,92.2 299.4,95.2 C300.7,98.2 302.1,101.4 302.5,104.6 C302.9,107.8 302.4,111.1 301.8,114.1 C301.2,117.1 300.2,120.1 298.8,122.5 C297.4,124.9 295.7,127.1 293.4,128.5 C291.1,129.9 288.0,130.5 285.0,130.9 C282.0,131.3 278.7,131.0 275.5,130.9 C272.3,130.8 268.3,130.2 265.9,130.3 C263.5,130.4 261.9,130.6 261.0,131.5 C260.1,132.4 260.7,134.3 260.5,136.0 C260.3,137.7 260.6,140.0 259.9,141.7 C259.2,143.4 257.9,145.3 256.3,146.4 C254.7,147.5 252.5,148.2 250.3,148.2 C248.1,148.2 245.6,147.3 243.2,146.4 C240.8,145.5 238.0,144.0 236.0,142.8 C234.0,141.7 232.7,141.0 231.0,139.5 C229.3,138.0 227.9,135.4 226.0,134.0 C224.1,132.6 222.2,131.8 219.8,130.9 C217.4,130.0 214.2,129.2 211.4,128.5 C208.6,127.8 206.1,127.3 203.1,126.7 C200.1,126.1 196.7,125.4 193.5,124.9 C190.3,124.4 186.9,124.0 183.9,123.7 C180.9,123.4 178.0,123.7 175.6,123.1 C173.2,122.5 171.2,121.8 169.6,120.1 C168.0,118.4 166.7,115.5 166.0,112.9 C165.3,110.3 165.2,106.8 165.4,104.6Z" fill="url(#shg)"/><path d="M165.4,104.6 C165.6,102.4 166.1,102.5 167.2,100.0 C168.3,97.5 170.2,92.7 172.0,89.3 C173.8,85.9 175.7,82.8 177.9,79.7 C180.1,76.6 182.7,73.3 185.1,70.7 C187.5,68.1 189.9,66.0 192.3,64.1 C194.7,62.2 196.9,61.0 199.5,59.4 C202.1,57.8 205.2,56.0 207.8,54.6 C210.4,53.2 212.4,51.9 215.0,51.0 C217.6,50.1 220.1,49.7 223.4,49.5 C226.7,49.3 231.9,49.3 235.0,49.8 C238.1,50.2 238.8,51.3 242.0,52.2 C245.2,53.1 250.3,54.0 253.9,55.2 C257.5,56.4 260.3,57.7 263.5,59.4 C266.7,61.1 270.1,63.3 273.1,65.3 C276.1,67.3 278.8,69.1 281.4,71.3 C284.0,73.5 286.4,75.9 288.6,78.5 C290.8,81.1 292.8,84.1 294.6,86.9 C296.4,89.7 298.1,92.2 299.4,95.2 C300.7,98.2 302.1,101.4 302.5,104.6 C302.9,107.8 302.4,111.1 301.8,114.1 C301.2,117.1 300.2,120.1 298.8,122.5 C297.4,124.9 295.7,127.1 293.4,128.5 C291.1,129.9 288.0,130.5 285.0,130.9 C282.0,131.3 278.7,131.0 275.5,130.9 C272.3,130.8 268.3,130.2 265.9,130.3 C263.5,130.4 261.9,130.6 261.0,131.5 C260.1,132.4 260.7,134.3 260.5,136.0 C260.3,137.7 260.6,140.0 259.9,141.7 C259.2,143.4 257.9,145.3 256.3,146.4 C254.7,147.5 252.5,148.2 250.3,148.2 C248.1,148.2 245.6,147.3 243.2,146.4 C240.8,145.5 238.0,144.0 236.0,142.8 C234.0,141.7 232.7,141.0 231.0,139.5 C229.3,138.0 227.9,135.4 226.0,134.0 C224.1,132.6 222.2,131.8 219.8,130.9 C217.4,130.0 214.2,129.2 211.4,128.5 C208.6,127.8 206.1,127.3 203.1,126.7 C200.1,126.1 196.7,125.4 193.5,124.9 C190.3,124.4 186.9,124.0 183.9,123.7 C180.9,123.4 178.0,123.7 175.6,123.1 C173.2,122.5 171.2,121.8 169.6,120.1 C168.0,118.4 166.7,115.5 166.0,112.9 C165.3,110.3 165.2,106.8 165.4,104.6Z" fill="none" stroke="#000" stroke-opacity="0.4" stroke-width="6" filter="url(#bl2)"/>
</g></g>
<g filter="url(#pil)"><clipPath id="b3s"><path d="M334.8,100.0 C335.7,97.0 337.6,92.9 339.6,89.3 C341.6,85.7 344.3,81.7 346.7,78.5 C349.1,75.3 351.1,72.7 353.9,70.1 C356.7,67.5 360.1,65.0 363.5,62.9 C366.9,60.8 370.7,59.1 374.3,57.6 C377.9,56.1 381.4,55.0 385.0,54.0 C388.6,53.0 392.5,52.2 395.8,51.6 C399.1,51.0 402.3,50.8 405.0,50.4 C407.7,50.0 409.2,49.7 412.0,49.5 C414.8,49.3 418.5,48.8 421.5,49.2 C424.5,49.7 427.3,50.9 429.9,52.2 C432.5,53.5 434.7,55.2 437.1,57.0 C439.5,58.8 441.9,60.5 444.3,62.9 C446.7,65.3 449.2,68.5 451.4,71.3 C453.6,74.1 455.4,76.9 457.4,79.7 C459.4,82.5 461.6,85.5 463.4,88.1 C465.2,90.7 466.9,92.5 468.2,95.2 C469.5,98.0 470.8,101.6 471.2,104.6 C471.6,107.5 471.3,110.5 470.6,112.9 C469.9,115.3 468.6,117.3 467.0,118.9 C465.4,120.5 463.4,121.8 461.0,122.5 C458.6,123.2 455.4,122.6 452.6,122.8 C449.8,123.0 447.1,123.2 444.3,123.7 C441.5,124.2 438.7,124.9 435.9,125.5 C433.1,126.1 430.3,126.4 427.5,127.3 C424.7,128.2 421.9,129.7 419.1,130.9 C416.3,132.1 413.2,133.2 410.8,134.5 C408.4,135.8 406.8,137.7 405.0,139.0 C403.2,140.3 401.8,141.3 400.0,142.5 C398.2,143.7 395.9,145.2 394.0,146.0 C392.1,146.8 390.7,147.1 388.6,147.0 C386.5,146.9 383.4,146.3 381.4,145.2 C379.4,144.1 377.7,142.3 376.7,140.5 C375.7,138.7 375.8,136.2 375.5,134.5 C375.2,132.8 375.9,130.8 375.0,130.0 C374.1,129.2 371.5,129.4 370.0,129.5 C368.5,129.6 368.4,130.1 365.9,130.3 C363.4,130.5 358.5,131.2 355.1,130.9 C351.7,130.6 348.4,129.9 345.6,128.5 C342.8,127.1 340.2,124.9 338.4,122.5 C336.6,120.1 335.5,116.7 334.8,114.1 C334.1,111.5 334.2,109.3 334.2,107.0 C334.2,104.7 333.9,103.0 334.8,100.0Z"/></clipPath>
<g clip-path="url(#b3s)"><g filter="url(#bl1)">
<path d="M334.8,100.0 C335.7,97.0 337.6,92.9 339.6,89.3 C341.6,85.7 344.3,81.7 346.7,78.5 C349.1,75.3 351.1,72.7 353.9,70.1 C356.7,67.5 360.1,65.0 363.5,62.9 C366.9,60.8 370.7,59.1 374.3,57.6 C377.9,56.1 381.4,55.0 385.0,54.0 C388.6,53.0 392.5,52.2 395.8,51.6 C399.1,51.0 402.3,50.8 405.0,50.4 C407.7,50.0 409.2,49.7 412.0,49.5 C414.8,49.3 418.5,48.8 421.5,49.2 C424.5,49.7 427.3,50.9 429.9,52.2 C432.5,53.5 434.7,55.2 437.1,57.0 C439.5,58.8 441.9,60.5 444.3,62.9 C446.7,65.3 449.2,68.5 451.4,71.3 C453.6,74.1 455.4,76.9 457.4,79.7 C459.4,82.5 461.6,85.5 463.4,88.1 C465.2,90.7 466.9,92.5 468.2,95.2 C469.5,98.0 470.8,101.6 471.2,104.6 C471.6,107.5 471.3,110.5 470.6,112.9 C469.9,115.3 468.6,117.3 467.0,118.9 C465.4,120.5 463.4,121.8 461.0,122.5 C458.6,123.2 455.4,122.6 452.6,122.8 C449.8,123.0 447.1,123.2 444.3,123.7 C441.5,124.2 438.7,124.9 435.9,125.5 C433.1,126.1 430.3,126.4 427.5,127.3 C424.7,128.2 421.9,129.7 419.1,130.9 C416.3,132.1 413.2,133.2 410.8,134.5 C408.4,135.8 406.8,137.7 405.0,139.0 C403.2,140.3 401.8,141.3 400.0,142.5 C398.2,143.7 395.9,145.2 394.0,146.0 C392.1,146.8 390.7,147.1 388.6,147.0 C386.5,146.9 383.4,146.3 381.4,145.2 C379.4,144.1 377.7,142.3 376.7,140.5 C375.7,138.7 375.8,136.2 375.5,134.5 C375.2,132.8 375.9,130.8 375.0,130.0 C374.1,129.2 371.5,129.4 370.0,129.5 C368.5,129.6 368.4,130.1 365.9,130.3 C363.4,130.5 358.5,131.2 355.1,130.9 C351.7,130.6 348.4,129.9 345.6,128.5 C342.8,127.1 340.2,124.9 338.4,122.5 C336.6,120.1 335.5,116.7 334.8,114.1 C334.1,111.5 334.2,109.3 334.2,107.0 C334.2,104.7 333.9,103.0 334.8,100.0Z" fill="#0c34e4"/>
<path d="M360.0,70.0 C361.0,68.0 365.0,65.3 368.0,64.0 C371.0,62.7 376.7,61.3 378.0,62.0 C379.3,62.7 377.7,66.0 376.0,68.0 C374.3,70.0 370.3,72.7 368.0,74.0 C365.7,75.3 363.3,76.7 362.0,76.0 C360.7,75.3 359.0,72.0 360.0,70.0Z" fill="#1878d0" fill-opacity="0.8"/>
<path d="M368.0,80.0 C368.5,77.0 373.0,76.0 375.0,76.0 C377.0,76.0 379.5,77.7 380.0,80.0 C380.5,82.3 379.3,87.7 378.0,90.0 C376.7,92.3 373.7,95.7 372.0,94.0 C370.3,92.3 367.5,83.0 368.0,80.0Z" fill="#1660d8" fill-opacity="0.7"/>
<path d="M372.0,50.0 C374.5,48.0 380.3,46.8 385.0,46.0 C389.7,45.2 393.9,45.3 400.0,45.0 C406.1,44.7 416.2,43.5 421.5,44.0 C426.8,44.5 428.7,45.3 432.0,48.0 C435.3,50.7 440.1,57.5 441.5,60.0 C442.9,62.5 441.6,61.6 440.7,62.9 C439.8,64.2 437.9,66.7 436.0,68.0 C434.1,69.3 431.0,70.5 429.0,70.5 C427.0,70.5 424.9,69.4 424.0,68.0 C423.1,66.6 424.3,63.6 423.3,62.0 C422.3,60.4 420.2,59.7 418.0,58.5 C415.8,57.3 412.6,55.3 410.0,55.0 C407.4,54.7 403.9,54.6 402.5,56.5 C401.1,58.4 402.7,62.8 401.8,66.5 C400.9,70.2 398.6,75.3 397.0,78.5 C395.4,81.7 393.4,82.9 392.2,85.7 C391.0,88.5 390.5,92.8 389.8,95.2 C389.1,97.6 389.1,98.7 388.0,100.0 C386.9,101.3 384.6,103.2 383.0,103.0 C381.4,102.8 378.8,100.7 378.5,99.0 C378.2,97.3 380.5,95.8 381.4,92.8 C382.3,89.8 383.0,85.3 383.8,80.9 C384.6,76.5 387.2,69.8 386.2,66.5 C385.2,63.2 380.7,62.4 378.0,61.0 C375.3,59.6 371.0,59.8 370.0,58.0 C369.0,56.2 369.5,52.0 372.0,50.0Z" fill="#de2600" fill-opacity="1.0"/>
<path d="M384.0,70.0 C385.2,66.3 388.0,65.3 390.0,64.0 C392.0,62.7 394.7,60.7 396.0,62.0 C397.3,63.3 398.7,68.3 398.0,72.0 C397.3,75.7 394.0,80.7 392.0,84.0 C390.0,87.3 387.5,91.7 386.0,92.0 C384.5,92.3 383.3,89.7 383.0,86.0 C382.7,82.3 382.8,73.7 384.0,70.0Z" fill="#e85a08" fill-opacity="0.8"/>
<path d="M344.4,80.9 C346.2,79.2 349.5,80.4 352.7,79.7 C355.9,79.0 361.5,76.1 363.5,76.7 C365.5,77.3 364.9,80.6 364.7,83.3 C364.5,86.0 362.9,90.0 362.3,92.8 C361.7,95.6 361.2,97.5 361.1,100.0 C361.1,102.5 362.4,105.5 362.0,108.0 C361.6,110.5 360.7,113.8 359.0,115.0 C357.3,116.2 354.3,115.8 352.0,115.0 C349.7,114.2 346.7,112.5 345.0,110.0 C343.3,107.5 342.5,103.3 342.0,100.0 C341.5,96.7 341.6,93.2 342.0,90.0 C342.4,86.8 342.6,82.6 344.4,80.9Z" fill="#de2600" fill-opacity="1.0"/>
<path d="M348.0,90.0 C349.3,86.7 353.8,84.3 356.0,84.0 C358.2,83.7 360.7,85.3 361.0,88.0 C361.3,90.7 359.2,96.7 358.0,100.0 C356.8,103.3 355.7,107.3 354.0,108.0 C352.3,108.7 349.0,107.0 348.0,104.0 C347.0,101.0 346.7,93.3 348.0,90.0Z" fill="#ea8008" fill-opacity="0.85"/>
<path d="M396.0,80.0 C397.5,77.7 401.0,76.2 404.0,75.0 C407.0,73.8 410.7,73.0 414.0,73.0 C417.3,73.0 422.1,73.5 424.0,75.0 C425.9,76.5 426.0,79.7 425.5,82.0 C425.0,84.3 422.9,87.0 421.0,89.0 C419.1,91.0 416.3,92.3 414.0,94.0 C411.7,95.7 409.5,97.5 407.0,99.0 C404.5,100.5 401.2,103.0 399.0,103.0 C396.8,103.0 394.7,101.3 394.0,99.0 C393.3,96.7 394.7,92.2 395.0,89.0 C395.3,85.8 394.5,82.3 396.0,80.0Z" fill="#de2600" fill-opacity="1.0"/>
<path d="M400.0,84.0 C401.7,81.0 406.7,79.0 410.0,78.0 C413.3,77.0 419.0,76.7 420.0,78.0 C421.0,79.3 418.3,83.3 416.0,86.0 C413.7,88.7 408.7,92.3 406.0,94.0 C403.3,95.7 401.0,97.7 400.0,96.0 C399.0,94.3 398.3,87.0 400.0,84.0Z" fill="#ea6a08" fill-opacity="0.9"/>
<path d="M376.0,96.0 C376.3,93.8 379.7,92.5 382.0,92.0 C384.3,91.5 387.3,92.2 390.0,93.0 C392.7,93.8 396.2,95.3 398.0,97.0 C399.8,98.7 402.0,101.5 401.0,103.0 C400.0,104.5 395.5,105.7 392.0,106.0 C388.5,106.3 382.7,106.7 380.0,105.0 C377.3,103.3 375.7,98.2 376.0,96.0Z" fill="#dc3a00" fill-opacity="1.0"/>
<path d="M364.6,108.9 C365.4,107.3 365.8,105.0 367.4,104.1 C369.0,103.2 371.4,103.4 374.1,103.3 C376.8,103.2 380.5,103.4 383.7,103.6 C386.9,103.8 390.3,104.0 393.3,104.3 C396.3,104.5 401.6,104.2 401.9,105.1 C402.2,106.0 397.4,108.3 395.2,109.9 C393.0,111.5 390.7,113.0 388.5,114.7 C386.3,116.5 383.4,119.0 381.8,120.4 C380.2,121.8 380.5,123.0 378.9,123.3 C377.3,123.6 374.4,122.9 372.2,122.3 C370.0,121.7 367.1,120.8 365.5,119.4 C363.9,118.0 362.8,115.5 362.7,113.7 C362.6,112.0 363.8,110.5 364.6,108.9Z" fill="#e07a00" fill-opacity="1.0"/>
<path d="M368.0,108.0 C369.3,106.3 374.3,106.2 378.0,106.0 C381.7,105.8 388.7,105.8 390.0,107.0 C391.3,108.2 388.0,111.2 386.0,113.0 C384.0,114.8 380.7,117.5 378.0,118.0 C375.3,118.5 371.7,117.7 370.0,116.0 C368.3,114.3 366.7,109.7 368.0,108.0Z" fill="#eaa000" fill-opacity="0.85"/>
<path d="M335.0,118.0 C337.2,117.4 341.7,119.7 345.0,120.5 C348.3,121.3 351.7,122.3 355.0,123.0 C358.3,123.7 362.0,123.8 365.0,124.5 C368.0,125.2 371.5,125.6 373.0,127.0 C374.5,128.4 377.0,131.8 374.0,133.0 C371.0,134.2 360.7,134.3 355.0,134.0 C349.3,133.7 343.8,132.7 340.0,131.0 C336.2,129.3 332.8,126.2 332.0,124.0 C331.2,121.8 332.8,118.6 335.0,118.0Z" fill="#de2600" fill-opacity="1.0"/>
<path d="M458.0,77.0 C458.9,76.3 461.8,79.5 464.0,82.0 C466.2,84.5 469.2,88.2 471.0,92.0 C472.8,95.8 474.7,100.2 475.0,105.0 C475.3,109.8 475.5,117.5 473.0,121.0 C470.5,124.5 463.8,125.5 460.0,126.0 C456.2,126.5 451.6,126.0 450.0,124.0 C448.4,122.0 449.8,117.3 450.2,114.1 C450.6,110.9 451.5,107.8 452.6,104.6 C453.7,101.4 456.0,98.1 457.0,95.0 C458.0,91.9 458.4,89.0 458.6,86.0 C458.8,83.0 457.1,77.7 458.0,77.0Z" fill="#de2600" fill-opacity="1.0"/>
<path d="M462.0,96.0 C463.7,94.0 466.7,97.7 468.0,100.0 C469.3,102.3 470.7,107.0 470.0,110.0 C469.3,113.0 466.0,117.7 464.0,118.0 C462.0,118.3 458.3,115.7 458.0,112.0 C457.7,108.3 460.3,98.0 462.0,96.0Z" fill="#e86810" fill-opacity="0.85"/>
<path d="M401.0,46.0 C402.7,44.2 408.0,43.8 410.0,45.0 C412.0,46.2 411.7,50.9 413.0,53.0 C414.3,55.1 416.3,56.1 418.0,57.5 C419.7,58.9 422.2,59.8 423.3,61.5 C424.4,63.2 423.6,66.0 424.5,67.5 C425.4,69.0 428.8,69.2 428.7,70.3 C428.6,71.4 426.3,73.3 424.0,74.0 C421.7,74.7 417.8,74.8 415.0,74.5 C412.2,74.2 409.2,73.4 407.0,72.0 C404.8,70.6 403.2,68.7 402.0,66.0 C400.8,63.3 400.2,59.3 400.0,56.0 C399.8,52.7 399.3,47.8 401.0,46.0Z" fill="#0c34e4" fill-opacity="1.0"/>
<path d="M375.0,133.0 C376.3,129.2 377.1,129.8 379.6,127.5 C382.1,125.2 386.6,121.9 390.0,119.5 C393.4,117.1 396.7,114.8 400.0,113.0 C403.3,111.2 406.2,110.3 410.0,108.5 C413.8,106.7 419.3,104.2 422.6,102.0 C425.9,99.8 428.1,97.3 430.0,95.0 C431.9,92.7 433.5,90.7 434.0,88.0 C434.5,85.3 434.0,81.7 433.0,79.0 C432.0,76.3 427.5,73.7 428.0,72.0 C428.5,70.3 433.8,70.3 436.0,69.0 C438.2,67.7 439.8,64.2 441.5,64.0 C443.2,63.8 444.2,66.2 446.0,68.0 C447.8,69.8 450.3,72.7 452.0,75.0 C453.7,77.3 455.8,79.7 456.0,82.0 C456.2,84.3 454.2,86.5 453.0,89.0 C451.8,91.5 450.2,94.5 449.0,97.0 C447.8,99.5 447.3,101.8 446.0,104.0 C444.7,106.2 442.5,107.8 441.0,110.0 C439.5,112.2 437.5,114.7 437.0,117.0 C436.5,119.3 440.8,121.7 438.0,124.0 C435.2,126.3 425.5,128.3 420.0,131.0 C414.5,133.7 409.2,136.8 405.0,140.0 C400.8,143.2 400.5,148.3 395.0,150.0 C389.5,151.7 375.3,152.8 372.0,150.0 C368.7,147.2 373.7,136.8 375.0,133.0Z" fill="#1588b8" fill-opacity="1.0"/>
<path d="M432.0,84.0 C432.7,80.3 438.5,76.7 442.0,76.0 C445.5,75.3 450.8,77.3 453.0,80.0 C455.2,82.7 455.8,88.8 455.0,92.0 C454.2,95.2 450.8,98.0 448.0,99.0 C445.2,100.0 440.7,100.5 438.0,98.0 C435.3,95.5 431.3,87.7 432.0,84.0Z" fill="#24c89c" fill-opacity="0.9" filter="url(#bl2)"/>
<path d="M380.0,128.0 C381.7,125.3 387.8,121.7 392.0,119.0 C396.2,116.3 400.3,114.5 405.0,112.0 C409.7,109.5 415.7,106.8 420.0,104.0 C424.3,101.2 428.2,97.7 431.0,95.0 C433.8,92.3 435.3,88.2 437.0,88.0 C438.7,87.8 441.5,91.3 441.0,94.0 C440.5,96.7 437.2,101.0 434.0,104.0 C430.8,107.0 426.7,109.3 422.0,112.0 C417.3,114.7 411.0,117.2 406.0,120.0 C401.0,122.8 396.0,126.5 392.0,129.0 C388.0,131.5 384.0,135.2 382.0,135.0 C380.0,134.8 378.3,130.7 380.0,128.0Z" fill="#1cb8a8" fill-opacity="0.9" filter="url(#bl2)"/>
<path d="M376.0,140.0 C378.0,137.3 384.3,135.3 390.0,133.0 C395.7,130.7 402.7,127.8 410.0,126.0 C417.3,124.2 429.3,121.7 434.0,122.0 C438.7,122.3 441.7,125.7 438.0,128.0 C434.3,130.3 419.7,132.5 412.0,136.0 C404.3,139.5 397.7,146.8 392.0,149.0 C386.3,151.2 380.7,150.5 378.0,149.0 C375.3,147.5 374.0,142.7 376.0,140.0Z" fill="#0c50c4" fill-opacity="0.85" filter="url(#bl2)"/>
<path d="M440.0,100.0 C441.7,97.7 446.3,96.3 448.0,98.0 C449.7,99.7 450.3,106.3 450.0,110.0 C449.7,113.7 447.7,118.0 446.0,120.0 C444.3,122.0 441.3,123.3 440.0,122.0 C438.7,120.7 438.0,115.7 438.0,112.0 C438.0,108.3 438.3,102.3 440.0,100.0Z" fill="#0c40d8" fill-opacity="0.7"/>
</g>
<path d="M334.8,100.0 C335.7,97.0 337.6,92.9 339.6,89.3 C341.6,85.7 344.3,81.7 346.7,78.5 C349.1,75.3 351.1,72.7 353.9,70.1 C356.7,67.5 360.1,65.0 363.5,62.9 C366.9,60.8 370.7,59.1 374.3,57.6 C377.9,56.1 381.4,55.0 385.0,54.0 C388.6,53.0 392.5,52.2 395.8,51.6 C399.1,51.0 402.3,50.8 405.0,50.4 C407.7,50.0 409.2,49.7 412.0,49.5 C414.8,49.3 418.5,48.8 421.5,49.2 C424.5,49.7 427.3,50.9 429.9,52.2 C432.5,53.5 434.7,55.2 437.1,57.0 C439.5,58.8 441.9,60.5 444.3,62.9 C446.7,65.3 449.2,68.5 451.4,71.3 C453.6,74.1 455.4,76.9 457.4,79.7 C459.4,82.5 461.6,85.5 463.4,88.1 C465.2,90.7 466.9,92.5 468.2,95.2 C469.5,98.0 470.8,101.6 471.2,104.6 C471.6,107.5 471.3,110.5 470.6,112.9 C469.9,115.3 468.6,117.3 467.0,118.9 C465.4,120.5 463.4,121.8 461.0,122.5 C458.6,123.2 455.4,122.6 452.6,122.8 C449.8,123.0 447.1,123.2 444.3,123.7 C441.5,124.2 438.7,124.9 435.9,125.5 C433.1,126.1 430.3,126.4 427.5,127.3 C424.7,128.2 421.9,129.7 419.1,130.9 C416.3,132.1 413.2,133.2 410.8,134.5 C408.4,135.8 406.8,137.7 405.0,139.0 C403.2,140.3 401.8,141.3 400.0,142.5 C398.2,143.7 395.9,145.2 394.0,146.0 C392.1,146.8 390.7,147.1 388.6,147.0 C386.5,146.9 383.4,146.3 381.4,145.2 C379.4,144.1 377.7,142.3 376.7,140.5 C375.7,138.7 375.8,136.2 375.5,134.5 C375.2,132.8 375.9,130.8 375.0,130.0 C374.1,129.2 371.5,129.4 370.0,129.5 C368.5,129.6 368.4,130.1 365.9,130.3 C363.4,130.5 358.5,131.2 355.1,130.9 C351.7,130.6 348.4,129.9 345.6,128.5 C342.8,127.1 340.2,124.9 338.4,122.5 C336.6,120.1 335.5,116.7 334.8,114.1 C334.1,111.5 334.2,109.3 334.2,107.0 C334.2,104.7 333.9,103.0 334.8,100.0Z" fill="url(#shg)"/><path d="M334.8,100.0 C335.7,97.0 337.6,92.9 339.6,89.3 C341.6,85.7 344.3,81.7 346.7,78.5 C349.1,75.3 351.1,72.7 353.9,70.1 C356.7,67.5 360.1,65.0 363.5,62.9 C366.9,60.8 370.7,59.1 374.3,57.6 C377.9,56.1 381.4,55.0 385.0,54.0 C388.6,53.0 392.5,52.2 395.8,51.6 C399.1,51.0 402.3,50.8 405.0,50.4 C407.7,50.0 409.2,49.7 412.0,49.5 C414.8,49.3 418.5,48.8 421.5,49.2 C424.5,49.7 427.3,50.9 429.9,52.2 C432.5,53.5 434.7,55.2 437.1,57.0 C439.5,58.8 441.9,60.5 444.3,62.9 C446.7,65.3 449.2,68.5 451.4,71.3 C453.6,74.1 455.4,76.9 457.4,79.7 C459.4,82.5 461.6,85.5 463.4,88.1 C465.2,90.7 466.9,92.5 468.2,95.2 C469.5,98.0 470.8,101.6 471.2,104.6 C471.6,107.5 471.3,110.5 470.6,112.9 C469.9,115.3 468.6,117.3 467.0,118.9 C465.4,120.5 463.4,121.8 461.0,122.5 C458.6,123.2 455.4,122.6 452.6,122.8 C449.8,123.0 447.1,123.2 444.3,123.7 C441.5,124.2 438.7,124.9 435.9,125.5 C433.1,126.1 430.3,126.4 427.5,127.3 C424.7,128.2 421.9,129.7 419.1,130.9 C416.3,132.1 413.2,133.2 410.8,134.5 C408.4,135.8 406.8,137.7 405.0,139.0 C403.2,140.3 401.8,141.3 400.0,142.5 C398.2,143.7 395.9,145.2 394.0,146.0 C392.1,146.8 390.7,147.1 388.6,147.0 C386.5,146.9 383.4,146.3 381.4,145.2 C379.4,144.1 377.7,142.3 376.7,140.5 C375.7,138.7 375.8,136.2 375.5,134.5 C375.2,132.8 375.9,130.8 375.0,130.0 C374.1,129.2 371.5,129.4 370.0,129.5 C368.5,129.6 368.4,130.1 365.9,130.3 C363.4,130.5 358.5,131.2 355.1,130.9 C351.7,130.6 348.4,129.9 345.6,128.5 C342.8,127.1 340.2,124.9 338.4,122.5 C336.6,120.1 335.5,116.7 334.8,114.1 C334.1,111.5 334.2,109.3 334.2,107.0 C334.2,104.7 333.9,103.0 334.8,100.0Z" fill="none" stroke="#000" stroke-opacity="0.4" stroke-width="6" filter="url(#bl2)"/>
</g></g>
<g filter="url(#pil)"><clipPath id="b4s"><path d="M486.0,110.6 C485.8,108.0 486.4,104.8 487.2,102.2 C488.0,99.6 489.6,97.0 490.8,95.0 C492.0,93.0 492.8,92.8 494.4,90.5 C496.0,88.2 498.3,83.9 500.3,80.9 C502.3,77.9 504.1,75.3 506.3,72.5 C508.5,69.7 511.1,66.3 513.5,64.1 C515.9,61.9 518.3,60.9 520.7,59.4 C523.1,57.9 525.4,56.4 527.8,55.2 C530.2,54.0 532.4,52.9 535.0,52.2 C537.6,51.5 540.6,51.2 543.4,51.0 C546.2,50.8 548.7,50.5 551.8,51.0 C554.9,51.5 558.3,53.0 562.0,54.0 C565.7,55.0 569.9,55.5 573.9,57.0 C577.9,58.5 582.3,60.9 585.9,62.9 C589.5,64.9 592.5,66.7 595.5,68.9 C598.5,71.1 601.2,73.5 603.8,76.1 C606.4,78.7 608.8,81.7 611.0,84.5 C613.2,87.3 615.4,90.4 617.0,92.8 C618.6,95.2 619.6,97.0 620.6,99.0 C621.6,101.0 622.8,101.9 623.0,104.6 C623.2,107.3 622.6,112.1 621.8,115.3 C621.0,118.5 620.0,121.3 618.2,123.7 C616.4,126.1 613.8,128.3 611.0,129.7 C608.2,131.1 604.8,131.7 601.4,132.1 C598.0,132.5 594.1,132.3 590.7,132.1 C587.3,131.9 582.9,130.3 581.1,130.9 C579.3,131.5 580.3,133.9 579.9,135.7 C579.5,137.5 579.7,139.9 578.7,141.7 C577.7,143.5 575.9,145.3 573.9,146.4 C571.9,147.5 569.1,148.2 566.7,148.2 C564.3,148.2 562.0,147.5 559.6,146.4 C557.2,145.3 554.1,143.3 552.4,141.7 C550.7,140.1 551.1,138.3 549.4,136.9 C547.7,135.5 545.0,134.4 542.2,133.3 C539.4,132.2 535.8,131.2 532.6,130.3 C529.4,129.4 526.3,128.5 523.1,127.9 C519.9,127.3 516.7,127.1 513.5,126.7 C510.3,126.3 507.1,126.0 503.9,125.5 C500.7,125.0 497.0,125.0 494.4,123.7 C491.8,122.4 489.8,119.9 488.4,117.7 C487.0,115.5 486.2,113.2 486.0,110.6Z"/></clipPath>
<g clip-path="url(#b4s)"><g filter="url(#bl1)">
<path d="M486.0,110.6 C485.8,108.0 486.4,104.8 487.2,102.2 C488.0,99.6 489.6,97.0 490.8,95.0 C492.0,93.0 492.8,92.8 494.4,90.5 C496.0,88.2 498.3,83.9 500.3,80.9 C502.3,77.9 504.1,75.3 506.3,72.5 C508.5,69.7 511.1,66.3 513.5,64.1 C515.9,61.9 518.3,60.9 520.7,59.4 C523.1,57.9 525.4,56.4 527.8,55.2 C530.2,54.0 532.4,52.9 535.0,52.2 C537.6,51.5 540.6,51.2 543.4,51.0 C546.2,50.8 548.7,50.5 551.8,51.0 C554.9,51.5 558.3,53.0 562.0,54.0 C565.7,55.0 569.9,55.5 573.9,57.0 C577.9,58.5 582.3,60.9 585.9,62.9 C589.5,64.9 592.5,66.7 595.5,68.9 C598.5,71.1 601.2,73.5 603.8,76.1 C606.4,78.7 608.8,81.7 611.0,84.5 C613.2,87.3 615.4,90.4 617.0,92.8 C618.6,95.2 619.6,97.0 620.6,99.0 C621.6,101.0 622.8,101.9 623.0,104.6 C623.2,107.3 622.6,112.1 621.8,115.3 C621.0,118.5 620.0,121.3 618.2,123.7 C616.4,126.1 613.8,128.3 611.0,129.7 C608.2,131.1 604.8,131.7 601.4,132.1 C598.0,132.5 594.1,132.3 590.7,132.1 C587.3,131.9 582.9,130.3 581.1,130.9 C579.3,131.5 580.3,133.9 579.9,135.7 C579.5,137.5 579.7,139.9 578.7,141.7 C577.7,143.5 575.9,145.3 573.9,146.4 C571.9,147.5 569.1,148.2 566.7,148.2 C564.3,148.2 562.0,147.5 559.6,146.4 C557.2,145.3 554.1,143.3 552.4,141.7 C550.7,140.1 551.1,138.3 549.4,136.9 C547.7,135.5 545.0,134.4 542.2,133.3 C539.4,132.2 535.8,131.2 532.6,130.3 C529.4,129.4 526.3,128.5 523.1,127.9 C519.9,127.3 516.7,127.1 513.5,126.7 C510.3,126.3 507.1,126.0 503.9,125.5 C500.7,125.0 497.0,125.0 494.4,123.7 C491.8,122.4 489.8,119.9 488.4,117.7 C487.0,115.5 486.2,113.2 486.0,110.6Z" fill="#0c3ce4"/>
<path d="M600.0,100.0 C601.7,96.7 609.0,96.7 612.0,98.0 C615.0,99.3 618.0,104.3 618.0,108.0 C618.0,111.7 614.7,118.3 612.0,120.0 C609.3,121.7 604.0,121.3 602.0,118.0 C600.0,114.7 598.3,103.3 600.0,100.0Z" fill="#1458e0" fill-opacity="0.7"/>
<path d="M482.0,95.0 C483.3,88.8 487.5,86.2 490.0,83.0 C492.5,79.8 494.7,77.2 497.0,76.0 C499.3,74.8 502.3,74.5 504.0,76.0 C505.7,77.5 506.5,81.8 507.0,85.0 C507.5,88.2 505.8,92.2 507.0,95.0 C508.2,97.8 511.5,99.4 514.0,102.0 C516.5,104.6 519.7,108.0 522.0,110.6 C524.3,113.2 528.0,115.7 528.0,117.7 C528.0,119.7 522.8,120.6 522.0,122.5 C521.2,124.4 526.7,127.6 523.0,129.0 C519.3,130.4 506.8,132.5 500.0,131.0 C493.2,129.5 485.0,126.0 482.0,120.0 C479.0,114.0 480.7,101.2 482.0,95.0Z" fill="#de2600" fill-opacity="1.0"/>
<path d="M486.0,100.0 C486.7,96.0 489.7,92.3 492.0,90.0 C494.3,87.7 497.7,85.0 500.0,86.0 C502.3,87.0 504.0,92.7 506.0,96.0 C508.0,99.3 510.0,103.0 512.0,106.0 C514.0,109.0 518.3,111.7 518.0,114.0 C517.7,116.3 513.7,118.8 510.0,120.0 C506.3,121.2 499.7,122.0 496.0,121.0 C492.3,120.0 489.7,117.5 488.0,114.0 C486.3,110.5 485.3,104.0 486.0,100.0Z" fill="#e8860c" fill-opacity="0.95"/>
<path d="M492.0,104.0 C493.0,102.3 497.0,101.3 500.0,102.0 C503.0,102.7 509.3,106.0 510.0,108.0 C510.7,110.0 506.7,113.3 504.0,114.0 C501.3,114.7 496.0,113.7 494.0,112.0 C492.0,110.3 491.0,105.7 492.0,104.0Z" fill="#eca010" fill-opacity="0.7"/>
<clipPath id="brain4c1"><path d="M518.0,62.0 C518.3,60.5 520.3,58.7 522.0,57.0 C523.7,55.3 525.0,53.7 528.0,52.0 C531.0,50.3 535.5,47.8 540.0,47.0 C544.5,46.2 549.2,46.2 555.0,47.0 C560.8,47.8 569.2,49.8 575.0,52.0 C580.8,54.2 586.5,56.6 590.0,60.0 C593.5,63.4 594.4,69.0 596.0,72.5 C597.6,76.0 598.5,78.3 599.5,80.9 C600.5,83.5 601.4,85.6 602.0,88.0 C602.6,90.4 603.0,93.2 603.4,95.2 C603.8,97.2 604.7,98.2 604.6,100.0 C604.5,101.8 604.1,105.0 603.0,106.0 C601.9,107.0 600.2,107.3 598.0,106.0 C595.8,104.7 593.0,100.5 590.0,98.0 C587.0,95.5 583.3,92.9 580.0,91.0 C576.7,89.1 573.3,87.8 570.0,86.5 C566.7,85.2 563.3,84.1 560.0,83.0 C556.7,81.9 553.3,81.0 550.0,80.0 C546.7,79.0 543.3,78.2 540.0,77.0 C536.7,75.8 532.7,74.0 530.0,72.5 C527.3,71.0 525.7,69.1 524.0,68.0 C522.3,66.9 521.0,67.0 520.0,66.0 C519.0,65.0 517.7,63.5 518.0,62.0Z"/></clipPath><path d="M518.0,62.0 C518.3,60.5 520.3,58.7 522.0,57.0 C523.7,55.3 525.0,53.7 528.0,52.0 C531.0,50.3 535.5,47.8 540.0,47.0 C544.5,46.2 549.2,46.2 555.0,47.0 C560.8,47.8 569.2,49.8 575.0,52.0 C580.8,54.2 586.5,56.6 590.0,60.0 C593.5,63.4 594.4,69.0 596.0,72.5 C597.6,76.0 598.5,78.3 599.5,80.9 C600.5,83.5 601.4,85.6 602.0,88.0 C602.6,90.4 603.0,93.2 603.4,95.2 C603.8,97.2 604.7,98.2 604.6,100.0 C604.5,101.8 604.1,105.0 603.0,106.0 C601.9,107.0 600.2,107.3 598.0,106.0 C595.8,104.7 593.0,100.5 590.0,98.0 C587.0,95.5 583.3,92.9 580.0,91.0 C576.7,89.1 573.3,87.8 570.0,86.5 C566.7,85.2 563.3,84.1 560.0,83.0 C556.7,81.9 553.3,81.0 550.0,80.0 C546.7,79.0 543.3,78.2 540.0,77.0 C536.7,75.8 532.7,74.0 530.0,72.5 C527.3,71.0 525.7,69.1 524.0,68.0 C522.3,66.9 521.0,67.0 520.0,66.0 C519.0,65.0 517.7,63.5 518.0,62.0Z" fill="#e67010"/><g clip-path="url(#brain4c1)"><path d="M556.0,56.0 C558.7,54.7 564.0,55.0 568.0,56.0 C572.0,57.0 576.0,59.0 580.0,62.0 C584.0,65.0 588.7,69.0 592.0,74.0 C595.3,79.0 599.0,87.3 600.0,92.0 C601.0,96.7 600.0,101.7 598.0,102.0 C596.0,102.3 592.0,96.7 588.0,94.0 C584.0,91.3 578.3,88.3 574.0,86.0 C569.7,83.7 565.7,82.0 562.0,80.0 C558.3,78.0 553.7,76.7 552.0,74.0 C550.3,71.3 551.3,67.0 552.0,64.0 C552.7,61.0 553.3,57.3 556.0,56.0Z" fill="#e89a0c" fill-opacity="0.95"/><path d="M565.0,62.0 C566.3,60.7 575.8,63.7 580.0,66.0 C584.2,68.3 587.7,72.3 590.0,76.0 C592.3,79.7 594.7,86.7 594.0,88.0 C593.3,89.3 589.7,86.3 586.0,84.0 C582.3,81.7 575.5,77.7 572.0,74.0 C568.5,70.3 563.7,63.3 565.0,62.0Z" fill="#e8b810" fill-opacity="0.8"/><path d="M518.0,60.0 C518.0,57.0 523.5,52.3 528.0,50.0 C532.5,47.7 540.0,46.3 545.0,46.0 C550.0,45.7 555.2,46.3 558.0,48.0 C560.8,49.7 562.0,53.0 562.0,56.0 C562.0,59.0 559.7,63.0 558.0,66.0 C556.3,69.0 555.0,73.0 552.0,74.0 C549.0,75.0 544.0,73.0 540.0,72.0 C536.0,71.0 531.7,70.0 528.0,68.0 C524.3,66.0 518.0,63.0 518.0,60.0Z" fill="#dc3004" fill-opacity="0.95"/><path d="M518.0,62.0 C518.3,60.5 520.3,58.7 522.0,57.0 C523.7,55.3 525.0,53.7 528.0,52.0 C531.0,50.3 535.5,47.8 540.0,47.0 C544.5,46.2 549.2,46.2 555.0,47.0 C560.8,47.8 569.2,49.8 575.0,52.0 C580.8,54.2 586.5,56.6 590.0,60.0 C593.5,63.4 594.4,69.0 596.0,72.5 C597.6,76.0 598.5,78.3 599.5,80.9 C600.5,83.5 601.4,85.6 602.0,88.0 C602.6,90.4 603.0,93.2 603.4,95.2 C603.8,97.2 604.7,98.2 604.6,100.0 C604.5,101.8 604.1,105.0 603.0,106.0 C601.9,107.0 600.2,107.3 598.0,106.0 C595.8,104.7 593.0,100.5 590.0,98.0 C587.0,95.5 583.3,92.9 580.0,91.0 C576.7,89.1 573.3,87.8 570.0,86.5 C566.7,85.2 563.3,84.1 560.0,83.0 C556.7,81.9 553.3,81.0 550.0,80.0 C546.7,79.0 543.3,78.2 540.0,77.0 C536.7,75.8 532.7,74.0 530.0,72.5 C527.3,71.0 525.7,69.1 524.0,68.0 C522.3,66.9 521.0,67.0 520.0,66.0 C519.0,65.0 517.7,63.5 518.0,62.0Z" fill="none" stroke="#e85a08" stroke-opacity="0.75" stroke-width="4.84"/><path d="M518.0,62.0 C518.3,60.5 520.3,58.7 522.0,57.0 C523.7,55.3 525.0,53.7 528.0,52.0 C531.0,50.3 535.5,47.8 540.0,47.0 C544.5,46.2 549.2,46.2 555.0,47.0 C560.8,47.8 569.2,49.8 575.0,52.0 C580.8,54.2 586.5,56.6 590.0,60.0 C593.5,63.4 594.4,69.0 596.0,72.5 C597.6,76.0 598.5,78.3 599.5,80.9 C600.5,83.5 601.4,85.6 602.0,88.0 C602.6,90.4 603.0,93.2 603.4,95.2 C603.8,97.2 604.7,98.2 604.6,100.0 C604.5,101.8 604.1,105.0 603.0,106.0 C601.9,107.0 600.2,107.3 598.0,106.0 C595.8,104.7 593.0,100.5 590.0,98.0 C587.0,95.5 583.3,92.9 580.0,91.0 C576.7,89.1 573.3,87.8 570.0,86.5 C566.7,85.2 563.3,84.1 560.0,83.0 C556.7,81.9 553.3,81.0 550.0,80.0 C546.7,79.0 543.3,78.2 540.0,77.0 C536.7,75.8 532.7,74.0 530.0,72.5 C527.3,71.0 525.7,69.1 524.0,68.0 C522.3,66.9 521.0,67.0 520.0,66.0 C519.0,65.0 517.7,63.5 518.0,62.0Z" fill="none" stroke="#e42a00" stroke-width="2.64"/></g>
<path d="M535.0,60.0 C535.7,58.4 537.8,57.0 540.0,56.5 C542.2,56.0 545.7,56.2 548.0,57.0 C550.3,57.8 553.0,59.2 554.0,61.0 C555.0,62.8 555.0,66.3 554.0,68.0 C553.0,69.7 550.3,70.7 548.0,71.0 C545.7,71.3 542.0,70.8 540.0,70.0 C538.0,69.2 536.8,67.7 536.0,66.0 C535.2,64.3 534.3,61.6 535.0,60.0Z" fill="#0c3ce4" fill-opacity="1.0"/>
<path d="M505.7,76.0 C506.9,72.5 509.7,68.9 512.9,67.0 C516.1,65.1 521.2,63.8 524.8,64.5 C528.4,65.2 530.4,68.8 534.4,71.5 C538.4,74.2 545.2,78.2 548.8,81.0 C552.4,83.8 556.0,85.6 556.0,88.0 C556.0,90.4 551.3,92.8 549.0,95.5 C546.7,98.2 544.0,101.3 542.0,104.0 C540.0,106.7 538.9,109.3 536.8,111.8 C534.7,114.3 532.0,119.0 529.6,119.0 C527.2,119.0 525.3,115.2 522.5,112.0 C519.7,108.8 515.7,104.0 512.9,100.0 C510.1,96.0 506.9,92.0 505.7,88.0 C504.5,84.0 504.5,79.5 505.7,76.0Z" fill="#1a9cb8" fill-opacity="1.0"/>
<path d="M512.0,76.0 C513.3,73.0 517.0,70.3 520.0,70.0 C523.0,69.7 527.0,71.7 530.0,74.0 C533.0,76.3 537.0,80.3 538.0,84.0 C539.0,87.7 537.7,93.0 536.0,96.0 C534.3,99.0 531.0,101.7 528.0,102.0 C525.0,102.3 520.7,100.3 518.0,98.0 C515.3,95.7 513.0,91.7 512.0,88.0 C511.0,84.3 510.7,79.0 512.0,76.0Z" fill="#28d294" fill-opacity="0.9"/>
<path d="M516.0,74.0 C516.7,72.5 519.5,70.7 521.0,71.0 C522.5,71.3 524.8,74.3 525.0,76.0 C525.2,77.7 523.3,80.3 522.0,81.0 C520.7,81.7 518.0,81.2 517.0,80.0 C516.0,78.8 515.3,75.5 516.0,74.0Z" fill="#48f0a0" fill-opacity="0.8"/>
<path d="M528.0,88.0 C529.0,86.3 532.3,85.3 534.0,86.0 C535.7,86.7 538.0,90.0 538.0,92.0 C538.0,94.0 535.7,97.3 534.0,98.0 C532.3,98.7 529.0,97.7 528.0,96.0 C527.0,94.3 527.0,89.7 528.0,88.0Z" fill="#1880b8" fill-opacity="0.6"/>
<path d="M550.0,95.0 C551.3,93.7 554.0,92.2 556.0,92.0 C558.0,91.8 560.3,92.7 562.0,94.0 C563.7,95.3 565.0,97.7 566.0,100.0 C567.0,102.3 568.2,105.3 568.0,108.0 C567.8,110.7 566.8,114.2 565.0,116.0 C563.2,117.8 559.2,119.3 557.0,119.0 C554.8,118.7 553.2,116.3 552.0,114.0 C550.8,111.7 550.7,107.3 550.0,105.0 C549.3,102.7 548.0,101.7 548.0,100.0 C548.0,98.3 548.7,96.3 550.0,95.0Z" fill="#de2600" fill-opacity="1.0"/>
<path d="M552.0,100.0 C552.7,98.0 556.2,97.3 558.0,98.0 C559.8,98.7 562.7,101.7 563.0,104.0 C563.3,106.3 561.5,111.0 560.0,112.0 C558.5,113.0 555.3,112.0 554.0,110.0 C552.7,108.0 551.3,102.0 552.0,100.0Z" fill="#e85c08" fill-opacity="0.8"/>
<path d="M578.0,101.0 C578.8,99.0 582.0,98.8 584.0,99.0 C586.0,99.2 588.8,100.3 590.0,102.0 C591.2,103.7 591.7,107.2 591.0,109.0 C590.3,110.8 588.0,112.7 586.0,113.0 C584.0,113.3 580.3,113.0 579.0,111.0 C577.7,109.0 577.2,103.0 578.0,101.0Z" fill="#de2600" fill-opacity="1.0"/>
<path d="M580.0,103.0 C580.5,101.7 583.5,101.2 585.0,101.5 C586.5,101.8 588.7,103.6 589.0,105.0 C589.3,106.4 588.2,109.2 587.0,110.0 C585.8,110.8 583.2,110.7 582.0,109.5 C580.8,108.3 579.5,104.3 580.0,103.0Z" fill="#e87410" fill-opacity="0.9"/>
<path d="M568.0,124.0 C569.7,123.5 574.3,124.3 578.0,125.0 C581.7,125.7 588.2,126.8 590.0,128.0 C591.8,129.2 591.0,131.5 589.0,132.0 C587.0,132.5 581.5,131.7 578.0,131.0 C574.5,130.3 569.7,129.2 568.0,128.0 C566.3,126.8 566.3,124.5 568.0,124.0Z" fill="#de2600" fill-opacity="0.9"/>
<path d="M520.0,122.0 C521.7,120.4 526.7,120.6 530.0,120.5 C533.3,120.4 536.7,121.0 540.0,121.5 C543.3,122.0 546.7,122.9 550.0,123.5 C553.3,124.1 556.7,124.3 560.0,125.0 C563.3,125.7 566.5,126.8 570.0,127.5 C573.5,128.2 578.8,128.4 581.0,129.0 C583.2,129.6 583.0,129.8 583.0,131.0 C583.0,132.2 581.5,134.2 581.0,136.0 C580.5,137.8 581.0,140.0 580.0,142.0 C579.0,144.0 577.2,146.7 575.0,148.0 C572.8,149.3 569.3,150.0 566.7,150.0 C564.1,150.0 562.0,149.2 559.6,148.0 C557.2,146.8 554.1,144.7 552.4,143.0 C550.7,141.3 551.1,139.4 549.4,138.0 C547.7,136.6 545.0,135.6 542.2,134.5 C539.4,133.4 536.3,132.2 532.6,131.5 C528.9,130.8 522.1,131.6 520.0,130.0 C517.9,128.4 518.3,123.6 520.0,122.0Z" fill="#1a9cc0" fill-opacity="1.0"/>
<path d="M524.0,122.0 C524.3,120.3 532.0,120.7 536.0,121.0 C540.0,121.3 544.3,122.8 548.0,124.0 C551.7,125.2 556.5,126.0 558.0,128.0 C559.5,130.0 559.0,134.7 557.0,136.0 C555.0,137.3 549.8,136.8 546.0,136.0 C542.2,135.2 537.7,133.3 534.0,131.0 C530.3,128.7 523.7,123.7 524.0,122.0Z" fill="#28dc94" fill-opacity="0.9"/>
<path d="M560.0,128.0 C562.7,126.3 569.0,128.7 572.0,130.0 C575.0,131.3 577.7,133.5 578.0,136.0 C578.3,138.5 576.3,143.3 574.0,145.0 C571.7,146.7 567.0,146.8 564.0,146.0 C561.0,145.2 556.7,143.0 556.0,140.0 C555.3,137.0 557.3,129.7 560.0,128.0Z" fill="#20a8c8" fill-opacity="0.7" filter="url(#bl2)"/>
<path d="M566.0,134.0 C566.2,132.7 570.3,132.3 572.0,133.0 C573.7,133.7 576.2,136.7 576.0,138.0 C575.8,139.3 572.7,141.7 571.0,141.0 C569.3,140.3 565.8,135.3 566.0,134.0Z" fill="#70d8e8" fill-opacity="0.5" filter="url(#bl2)"/>
</g>
<path d="M486.0,110.6 C485.8,108.0 486.4,104.8 487.2,102.2 C488.0,99.6 489.6,97.0 490.8,95.0 C492.0,93.0 492.8,92.8 494.4,90.5 C496.0,88.2 498.3,83.9 500.3,80.9 C502.3,77.9 504.1,75.3 506.3,72.5 C508.5,69.7 511.1,66.3 513.5,64.1 C515.9,61.9 518.3,60.9 520.7,59.4 C523.1,57.9 525.4,56.4 527.8,55.2 C530.2,54.0 532.4,52.9 535.0,52.2 C537.6,51.5 540.6,51.2 543.4,51.0 C546.2,50.8 548.7,50.5 551.8,51.0 C554.9,51.5 558.3,53.0 562.0,54.0 C565.7,55.0 569.9,55.5 573.9,57.0 C577.9,58.5 582.3,60.9 585.9,62.9 C589.5,64.9 592.5,66.7 595.5,68.9 C598.5,71.1 601.2,73.5 603.8,76.1 C606.4,78.7 608.8,81.7 611.0,84.5 C613.2,87.3 615.4,90.4 617.0,92.8 C618.6,95.2 619.6,97.0 620.6,99.0 C621.6,101.0 622.8,101.9 623.0,104.6 C623.2,107.3 622.6,112.1 621.8,115.3 C621.0,118.5 620.0,121.3 618.2,123.7 C616.4,126.1 613.8,128.3 611.0,129.7 C608.2,131.1 604.8,131.7 601.4,132.1 C598.0,132.5 594.1,132.3 590.7,132.1 C587.3,131.9 582.9,130.3 581.1,130.9 C579.3,131.5 580.3,133.9 579.9,135.7 C579.5,137.5 579.7,139.9 578.7,141.7 C577.7,143.5 575.9,145.3 573.9,146.4 C571.9,147.5 569.1,148.2 566.7,148.2 C564.3,148.2 562.0,147.5 559.6,146.4 C557.2,145.3 554.1,143.3 552.4,141.7 C550.7,140.1 551.1,138.3 549.4,136.9 C547.7,135.5 545.0,134.4 542.2,133.3 C539.4,132.2 535.8,131.2 532.6,130.3 C529.4,129.4 526.3,128.5 523.1,127.9 C519.9,127.3 516.7,127.1 513.5,126.7 C510.3,126.3 507.1,126.0 503.9,125.5 C500.7,125.0 497.0,125.0 494.4,123.7 C491.8,122.4 489.8,119.9 488.4,117.7 C487.0,115.5 486.2,113.2 486.0,110.6Z" fill="url(#shg)"/><path d="M486.0,110.6 C485.8,108.0 486.4,104.8 487.2,102.2 C488.0,99.6 489.6,97.0 490.8,95.0 C492.0,93.0 492.8,92.8 494.4,90.5 C496.0,88.2 498.3,83.9 500.3,80.9 C502.3,77.9 504.1,75.3 506.3,72.5 C508.5,69.7 511.1,66.3 513.5,64.1 C515.9,61.9 518.3,60.9 520.7,59.4 C523.1,57.9 525.4,56.4 527.8,55.2 C530.2,54.0 532.4,52.9 535.0,52.2 C537.6,51.5 540.6,51.2 543.4,51.0 C546.2,50.8 548.7,50.5 551.8,51.0 C554.9,51.5 558.3,53.0 562.0,54.0 C565.7,55.0 569.9,55.5 573.9,57.0 C577.9,58.5 582.3,60.9 585.9,62.9 C589.5,64.9 592.5,66.7 595.5,68.9 C598.5,71.1 601.2,73.5 603.8,76.1 C606.4,78.7 608.8,81.7 611.0,84.5 C613.2,87.3 615.4,90.4 617.0,92.8 C618.6,95.2 619.6,97.0 620.6,99.0 C621.6,101.0 622.8,101.9 623.0,104.6 C623.2,107.3 622.6,112.1 621.8,115.3 C621.0,118.5 620.0,121.3 618.2,123.7 C616.4,126.1 613.8,128.3 611.0,129.7 C608.2,131.1 604.8,131.7 601.4,132.1 C598.0,132.5 594.1,132.3 590.7,132.1 C587.3,131.9 582.9,130.3 581.1,130.9 C579.3,131.5 580.3,133.9 579.9,135.7 C579.5,137.5 579.7,139.9 578.7,141.7 C577.7,143.5 575.9,145.3 573.9,146.4 C571.9,147.5 569.1,148.2 566.7,148.2 C564.3,148.2 562.0,147.5 559.6,146.4 C557.2,145.3 554.1,143.3 552.4,141.7 C550.7,140.1 551.1,138.3 549.4,136.9 C547.7,135.5 545.0,134.4 542.2,133.3 C539.4,132.2 535.8,131.2 532.6,130.3 C529.4,129.4 526.3,128.5 523.1,127.9 C519.9,127.3 516.7,127.1 513.5,126.7 C510.3,126.3 507.1,126.0 503.9,125.5 C500.7,125.0 497.0,125.0 494.4,123.7 C491.8,122.4 489.8,119.9 488.4,117.7 C487.0,115.5 486.2,113.2 486.0,110.6Z" fill="none" stroke="#000" stroke-opacity="0.4" stroke-width="6" filter="url(#bl2)"/>
</g></g>


<rect x="153.35" y="158.05" width="307.3" height="13.9" fill="url(#gr)" stroke="#000" stroke-width="1.7"/>
<rect x="153.35" y="185.85" width="307.3" height="13.9" fill="url(#gb)" stroke="#000" stroke-width="1.7"/>
<line x1="230.5" y1="169.2" x2="230.5" y2="171.2" stroke="#fff" stroke-opacity="0.6" stroke-width="1"/>
<line x1="307" y1="169.2" x2="307" y2="171.2" stroke="#fff" stroke-opacity="0.6" stroke-width="1"/>
<line x1="383.5" y1="169.2" x2="383.5" y2="171.2" stroke="#fff" stroke-opacity="0.6" stroke-width="1"/>
<line x1="230.5" y1="197.0" x2="230.5" y2="199.0" stroke="#fff" stroke-opacity="0.6" stroke-width="1"/>
<line x1="307" y1="197.0" x2="307" y2="199.0" stroke="#fff" stroke-opacity="0.6" stroke-width="1"/>
<line x1="383.5" y1="197.0" x2="383.5" y2="199.0" stroke="#fff" stroke-opacity="0.6" stroke-width="1"/>
<text x="144.3" y="168.1" text-anchor="middle" class="cbl">0</text>
<text x="144.3" y="196.8" text-anchor="middle" class="cbl">0</text>
<text x="467.5" y="168.1" class="cbl">8</text>
<text x="467.8" y="196.8" class="cbl">-8</text>
<text x="3.0" y="16.8" class="pl">A</text>
<text x="1.6" y="253.7" class="pl">B</text>
<text x="150.2" y="19.1" text-anchor="middle" class="tt">Atrophy Network Map</text>
<text x="150.2" y="34.4" text-anchor="middle" class="tt">Group-level Result</text>
<text x="465.5" y="19.1" text-anchor="middle" class="tt">Growth Network Map</text>
<text x="465.5" y="34.4" text-anchor="middle" class="tt">Group-level Result</text>
<g fill="#9e9cd8" stroke="#5e5e66" stroke-width="1.5"><rect x="160.90" y="584.60" width="10.03" height="19.90"/><rect x="170.93" y="541.00" width="10.03" height="63.50"/><rect x="180.95" y="504.50" width="10.03" height="100.00"/><rect x="190.98" y="450.00" width="10.03" height="154.50"/><rect x="201.00" y="390.50" width="10.03" height="214.00"/><rect x="211.03" y="354.60" width="10.03" height="249.90"/><rect x="221.06" y="330.00" width="10.03" height="274.50"/><rect x="231.08" y="283.00" width="10.03" height="321.50"/><rect x="241.11" y="287.00" width="10.03" height="317.50"/><rect x="251.13" y="292.30" width="10.03" height="312.20"/><rect x="261.16" y="269.50" width="10.03" height="335.00"/><rect x="271.19" y="306.60" width="10.03" height="297.90"/><rect x="281.21" y="301.40" width="10.03" height="303.10"/><rect x="291.24" y="270.30" width="10.03" height="334.20"/><rect x="301.26" y="295.50" width="10.03" height="309.00"/><rect x="311.29" y="300.80" width="10.03" height="303.70"/><rect x="321.32" y="320.20" width="10.03" height="284.30"/><rect x="331.34" y="350.40" width="10.03" height="254.10"/><rect x="341.37" y="371.80" width="10.03" height="232.70"/><rect x="351.39" y="353.80" width="10.03" height="250.70"/><rect x="361.42" y="407.40" width="10.03" height="197.10"/><rect x="371.45" y="401.80" width="10.03" height="202.70"/><rect x="381.47" y="436.00" width="10.03" height="168.50"/><rect x="391.50" y="445.80" width="10.03" height="158.70"/><rect x="401.52" y="465.00" width="10.03" height="139.50"/><rect x="411.55" y="471.90" width="10.03" height="132.60"/><rect x="421.58" y="503.40" width="10.03" height="101.10"/><rect x="431.60" y="512.30" width="10.03" height="92.20"/><rect x="441.63" y="527.00" width="10.03" height="77.50"/><rect x="451.65" y="546.00" width="10.03" height="58.50"/><rect x="461.68" y="558.00" width="10.03" height="46.50"/><rect x="471.71" y="577.70" width="10.03" height="26.80"/><rect x="481.73" y="581.80" width="10.03" height="22.70"/><rect x="491.76" y="594.00" width="10.03" height="10.50"/><rect x="501.78" y="599.30" width="10.03" height="5.20"/><rect x="511.81" y="602.50" width="10.03" height="2.00"/></g>
<line x1="183" y1="253.0" x2="183" y2="604.5" stroke="#f00000" stroke-width="1.7"/>
<clipPath id="ax"><rect x="105.5" y="253.0" width="471.5" height="351.5"/></clipPath>
<path d="M124.66,604.47 L127.39,604.44 L130.11,604.38 L132.84,604.26 L135.56,604.06 L138.29,603.73 L141.02,603.20 L143.74,602.38 L146.47,601.17 L149.19,599.45 L151.92,597.10 L154.64,594.00 L157.37,590.04 L160.10,585.16 L162.82,579.32 L165.55,572.51 L168.27,564.76 L171.00,556.14 L173.73,546.72 L176.45,536.56 L179.18,525.74 L181.90,514.33 L184.63,502.38 L187.36,489.96 L190.08,477.17 L192.81,464.11 L195.53,450.90 L198.26,437.71 L200.98,424.69 L203.71,411.98 L206.44,399.72 L209.16,387.99 L211.89,376.84 L214.61,366.27 L217.34,356.26 L220.07,346.81 L222.79,337.90 L225.52,329.56 L228.24,321.86 L230.97,314.86 L233.70,308.66 L236.42,303.32 L239.15,298.87 L241.87,295.29 L244.60,292.50 L247.32,290.40 L250.05,288.88 L252.78,287.82 L255.50,287.18 L258.23,286.92 L260.95,287.02 L263.68,287.47 L266.41,288.24 L269.13,289.22 L271.86,290.29 L274.58,291.28 L277.31,292.03 L280.04,292.42 L282.76,292.42 L285.49,292.06 L288.21,291.46 L290.94,290.83 L293.66,290.37 L296.39,290.28 L299.12,290.70 L301.84,291.74 L304.57,293.41 L307.29,295.70 L310.02,298.57 L312.75,301.96 L315.47,305.82 L318.20,310.12 L320.92,314.79 L323.65,319.78 L326.38,325.00 L329.10,330.36 L331.83,335.72 L334.55,340.96 L337.28,345.96 L340.01,350.66 L342.73,355.05 L345.46,359.16 L348.18,363.10 L350.91,367.01 L353.63,371.00 L356.36,375.19 L359.09,379.62 L361.81,384.30 L364.54,389.18 L367.26,394.19 L369.99,399.26 L372.72,404.35 L375.44,409.42 L378.17,414.46 L380.89,419.47 L383.62,424.43 L386.35,429.32 L389.07,434.13 L391.80,438.84 L394.52,443.43 L397.25,447.91 L399.97,452.29 L402.70,456.62 L405.43,460.93 L408.15,465.28 L410.88,469.69 L413.60,474.20 L416.33,478.81 L419.06,483.51 L421.78,488.25 L424.51,492.98 L427.23,497.67 L429.96,502.26 L432.69,506.75 L435.41,511.13 L438.14,515.42 L440.86,519.65 L443.59,523.86 L446.31,528.06 L449.04,532.26 L451.77,536.48 L454.49,540.69 L457.22,544.88 L459.94,549.03 L462.67,553.11 L465.40,557.11 L468.12,560.98 L470.85,564.71 L473.57,568.27 L476.30,571.65 L479.03,574.83 L481.75,577.81 L484.48,580.61 L487.20,583.24 L489.93,585.71 L492.65,588.01 L495.38,590.17 L498.11,592.16 L500.83,593.99 L503.56,595.65 L506.28,597.13 L509.01,598.43 L511.74,599.57 L514.46,600.56 L517.19,601.39 L519.91,602.09 L522.64,602.67 L525.37,603.14 L528.09,603.52 L530.82,603.81 L533.54,604.03 L536.27,604.19 L538.99,604.30 L541.72,604.38 L544.45,604.43 L547.17,604.46 L549.90,604.48 L552.62,604.49 L555.35,604.49 L558.08,604.50" fill="none" stroke="#000096" stroke-width="5.6" stroke-linejoin="round" clip-path="url(#ax)"/>
<rect x="105.5" y="253.0" width="471.5" height="351.5" fill="none" stroke="#222" stroke-width="1.4"/>
<line x1="101.3" y1="604.5" x2="105.5" y2="604.5" stroke="#222" stroke-width="1.3"/>
<text x="95.7" y="609.8" text-anchor="end" class="tl" textLength="21.4" lengthAdjust="spacingAndGlyphs">0.0</text>
<line x1="101.3" y1="541.1" x2="105.5" y2="541.1" stroke="#222" stroke-width="1.3"/>
<text x="95.7" y="546.4" text-anchor="end" class="tl" textLength="21.4" lengthAdjust="spacingAndGlyphs">0.2</text>
<line x1="101.3" y1="477.8" x2="105.5" y2="477.8" stroke="#222" stroke-width="1.3"/>
<text x="95.7" y="483.1" text-anchor="end" class="tl" textLength="21.4" lengthAdjust="spacingAndGlyphs">0.4</text>
<line x1="101.3" y1="414.4" x2="105.5" y2="414.4" stroke="#222" stroke-width="1.3"/>
<text x="95.7" y="419.7" text-anchor="end" class="tl" textLength="21.4" lengthAdjust="spacingAndGlyphs">0.6</text>
<line x1="101.3" y1="351.1" x2="105.5" y2="351.1" stroke="#222" stroke-width="1.3"/>
<text x="95.7" y="356.40000000000003" text-anchor="end" class="tl" textLength="21.4" lengthAdjust="spacingAndGlyphs">0.8</text>
<line x1="101.3" y1="287.7" x2="105.5" y2="287.7" stroke="#222" stroke-width="1.3"/>
<text x="95.7" y="293.0" text-anchor="end" class="tl" textLength="21.4" lengthAdjust="spacingAndGlyphs">1.0</text>
<line x1="145.5" y1="604.5" x2="145.5" y2="608.7" stroke="#222" stroke-width="1.3"/>
<text x="146.05" y="624.4" text-anchor="middle" class="tl" textLength="31.6" lengthAdjust="spacingAndGlyphs">−1.0</text>
<line x1="246.2" y1="604.5" x2="246.2" y2="608.7" stroke="#222" stroke-width="1.3"/>
<text x="246.75" y="624.4" text-anchor="middle" class="tl" textLength="31.6" lengthAdjust="spacingAndGlyphs">−0.5</text>
<line x1="347.0" y1="604.5" x2="347.0" y2="608.7" stroke="#222" stroke-width="1.3"/>
<text x="347.0" y="624.4" text-anchor="middle" class="tl" textLength="21.4" lengthAdjust="spacingAndGlyphs">0.0</text>
<line x1="447.7" y1="604.5" x2="447.7" y2="608.7" stroke="#222" stroke-width="1.3"/>
<text x="447.7" y="624.4" text-anchor="middle" class="tl" textLength="21.4" lengthAdjust="spacingAndGlyphs">0.5</text>
<line x1="548.4" y1="604.5" x2="548.4" y2="608.7" stroke="#222" stroke-width="1.3"/>
<text x="548.4" y="624.4" text-anchor="middle" class="tl" textLength="21.4" lengthAdjust="spacingAndGlyphs">1.0</text>
<line x1="428.8" y1="282" x2="457" y2="282" stroke="#f00000" stroke-width="1.7"/>
<text x="466.3" y="287.2" class="lg" textLength="49.6" lengthAdjust="spacingAndGlyphs">r = -.81</text>
<text x="466.3" y="306.5" class="lg" textLength="49.8" lengthAdjust="spacingAndGlyphs">P = .02</text>
<text x="330" y="642.8" text-anchor="middle" class="xl" textLength="297.6" lengthAdjust="spacingAndGlyphs">Permutation Distribution of Atrophy-growth</text>
<text x="330" y="662.3" text-anchor="middle" class="xl" textLength="200.2" lengthAdjust="spacingAndGlyphs">Network Spatial Correlations</text>
<text transform="translate(63.3,430.2) rotate(-90)" text-anchor="middle" class="xl">Density</text>
</svg>
</body></html>
